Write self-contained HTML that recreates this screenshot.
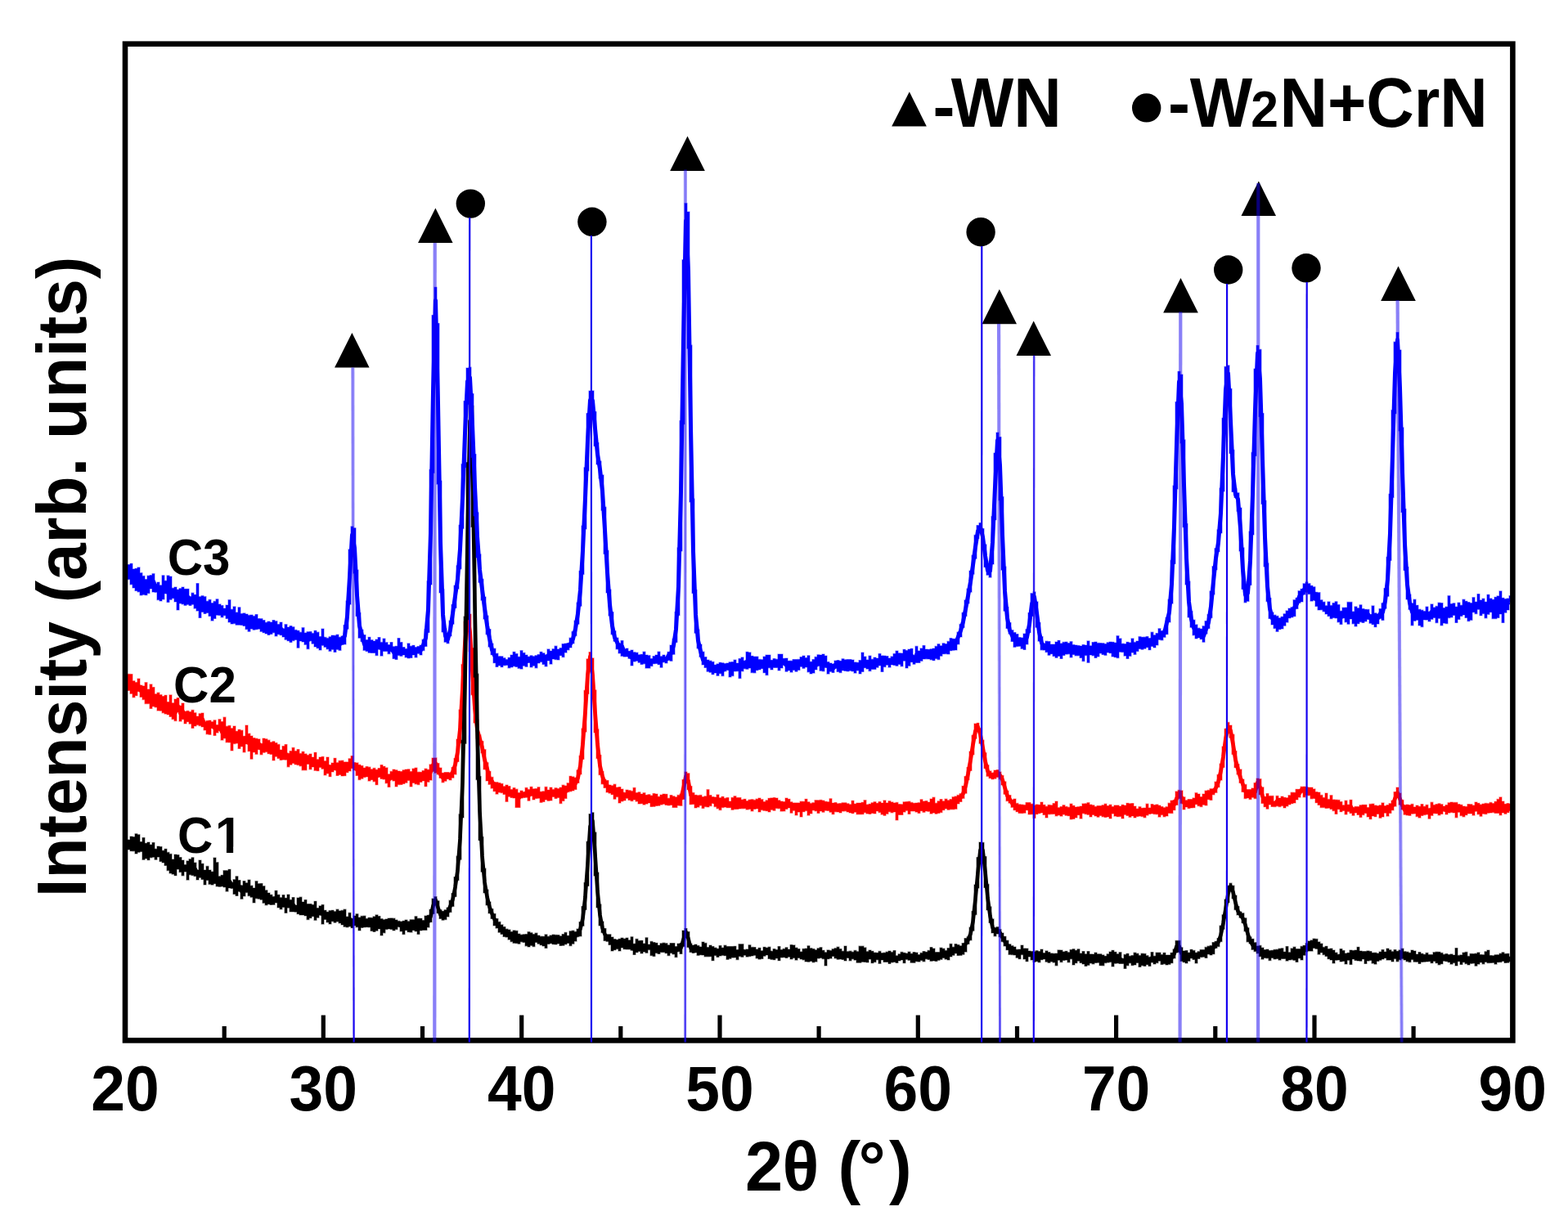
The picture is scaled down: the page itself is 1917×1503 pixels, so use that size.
<!DOCTYPE html><html><head><meta charset="utf-8"><title>XRD patterns</title><style>html,body{margin:0;padding:0;background:#fff;overflow:hidden}svg{display:block}</style></head><body>
<svg width="1917" height="1503" viewBox="0 0 1917 1503">
<rect width="1917" height="1503" fill="#fff"/>
<g>
<path fill="#ff0000" stroke="#ff0000" stroke-width="1.20" stroke-opacity="0.45" d="M156.0 824.4H159.0V824.5H162.0V832.8H165.0V834.6H168.0V830.0H171.0V838.0H174.0V838.9H177.0V834.7H180.0V842.9H183.0V836.9H186.0V840.6H189.0V848.8H192.0V847.2H195.0V849.7H198.0V851.6H201.0V850.3H204.0V858.6H207.0V849.9H210.0V859.8H213.0V855.1H216.0V853.5H219.0V863.1H222.0V860.1H225.0V870.0H228.0V869.4H231.0V870.6H234.0V868.4H237.0V871.8H240.0V876.1H243.0V872.8H246.0V872.1H249.0V882.8H252.0V881.4H255.0V881.0H258.0V882.7H261.0V880.8H264.0V886.5H267.0V879.7H270.0V882.6H273.0V877.2H276.0V888.2H279.0V887.4H282.0V890.7H285.0V888.1H288.0V894.3H291.0V892.3H294.0V893.2H297.0V900.3H300.0V887.1H303.0V897.2H306.0V900.0H309.0V902.6H312.0V903.2H315.0V903.9H318.0V909.3H321.0V903.1H324.0V903.8H327.0V905.2H330.0V907.7H333.0V906.8H336.0V908.6H339.0V910.4H342.0V917.0H345.0V912.6H348.0V910.6H351.0V921.2H354.0V918.5H357.0V914.4H360.0V918.6H363.0V916.6H366.0V921.4H369.0V919.3H372.0V921.9H375.0V923.4H378.0V922.1H381.0V926.1H384.0V920.3H387.0V928.7H390.0V926.1H393.0V925.4H396.0V930.7H399.0V926.1H402.0V935.5H405.0V933.1H408.0V927.3H411.0V932.7H414.0V930.4H417.0V930.2H420.0V931.9H423.0V931.9H426.0V927.8H429.0V924.6H432.0V932.6H435.0V932.9H438.0V935.3H441.0V936.5H444.0V939.1H447.0V937.6H450.0V938.2H453.0V940.8H456.0V939.4H459.0V941.3H462.0V939.6H465.0V935.5H468.0V937.3H471.0V938.9H474.0V946.8H477.0V943.4H480.0V941.1H483.0V941.8H486.0V943.0H489.0V943.5H492.0V941.8H495.0V941.0H498.0V940.8H501.0V943.5H504.0V940.0H507.0V939.1H510.0V944.2H513.0V944.3H516.0V942.5H519.0V940.2H522.0V941.2H525.0V934.9H528.0V927.0H531.0V926.9H534.0V933.6H537.0V939.0H540.0V945.3H543.0V944.6H546.0V944.5H549.0V945.2H552.0V938.6H555.0V927.5H558.0V904.1H561.0V868.1H564.0V812.7H567.0V760.4H570.0V747.8H573.0V751.1H576.0V792.6H579.0V845.8H582.0V880.1H585.0V898.9H588.0V906.6H591.0V916.7H594.0V932.7H597.0V943.3H600.0V950.4H603.0V956.6H606.0V956.7H609.0V957.5H612.0V958.4H615.0V961.7H618.0V960.0H621.0V961.6H624.0V965.6H627.0V963.6H630.0V965.2H633.0V969.4H636.0V967.0H639.0V968.4H642.0V963.4H645.0V965.4H648.0V962.3H651.0V964.8H654.0V964.5H657.0V962.7H660.0V968.2H663.0V967.8H666.0V962.4H669.0V966.1H672.0V963.1H675.0V965.4H678.0V963.7H681.0V964.6H684.0V963.0H687.0V960.2H690.0V960.9H693.0V957.7H696.0V949.3H699.0V949.9H702.0V951.0H705.0V941.8H708.0V924.4H711.0V891.1H714.0V844.4H717.0V805.9H720.0V797.5H723.0V804.9H726.0V843.9H729.0V891.9H732.0V923.6H735.0V943.6H738.0V953.3H741.0V954.5H744.0V960.1H747.0V960.8H750.0V959.2H753.0V962.9H756.0V962.5H759.0V965.0H762.0V969.2H765.0V966.0H768.0V966.7H771.0V967.4H774.0V963.4H777.0V969.5H780.0V968.8H783.0V971.1H786.0V969.7H789.0V972.3H792.0V971.7H795.0V972.9H798.0V970.5H801.0V971.0H804.0V974.2H807.0V972.1H810.0V971.0H813.0V971.3H816.0V976.2H819.0V972.6H822.0V973.8H825.0V974.8H828.0V972.4H831.0V971.2H834.0V953.6H837.0V944.1H840.0V945.8H843.0V961.6H846.0V969.5H849.0V972.3H852.0V972.8H855.0V972.4H858.0V974.6H861.0V973.8H864.0V965.7H867.0V972.5H870.0V974.5H873.0V974.9H876.0V971.9H879.0V975.7H882.0V974.3H885.0V976.2H888.0V975.5H891.0V980.1H894.0V975.4H897.0V973.7H900.0V975.6H903.0V975.5H906.0V977.9H909.0V977.3H912.0V979.6H915.0V978.0H918.0V977.7H921.0V978.4H924.0V977.2H927.0V976.0H930.0V977.7H933.0V980.5H936.0V978.8H939.0V976.3H942.0V975.9H945.0V975.6H948.0V976.1H951.0V978.8H954.0V980.0H957.0V980.6H960.0V976.1H963.0V977.3H966.0V980.8H969.0V981.9H972.0V981.9H975.0V981.9H978.0V980.2H981.0V980.3H984.0V977.3H987.0V980.8H990.0V982.4H993.0V981.7H996.0V978.7H999.0V978.8H1002.0V978.4H1005.0V979.0H1008.0V980.3H1011.0V980.7H1014.0V976.8H1017.0V982.1H1020.0V981.6H1023.0V982.8H1026.0V982.5H1029.0V981.8H1032.0V981.8H1035.0V982.8H1038.0V983.8H1041.0V979.3H1044.0V983.0H1047.0V982.0H1050.0V982.0H1053.0V981.3H1056.0V978.7H1059.0V983.9H1062.0V983.3H1065.0V981.8H1068.0V980.7H1071.0V982.3H1074.0V980.6H1077.0V982.0H1080.0V978.9H1083.0V981.9H1086.0V979.7H1089.0V980.9H1092.0V981.9H1095.0V981.4H1098.0V983.5H1101.0V983.7H1104.0V980.8H1107.0V980.6H1110.0V980.2H1113.0V981.4H1116.0V982.3H1119.0V982.1H1122.0V981.7H1125.0V977.8H1128.0V979.9H1131.0V979.5H1134.0V981.1H1137.0V977.1H1140.0V975.2H1143.0V982.2H1146.0V979.8H1149.0V977.6H1152.0V979.8H1155.0V977.2H1158.0V978.8H1161.0V977.6H1164.0V974.7H1167.0V973.9H1170.0V972.4H1173.0V970.7H1176.0V961.3H1179.0V949.6H1182.0V938.5H1185.0V919.0H1188.0V899.2H1191.0V885.0H1194.0V884.3H1197.0V890.8H1200.0V905.2H1203.0V920.7H1206.0V935.7H1209.0V942.9H1212.0V945.0H1215.0V942.1H1218.0V941.6H1221.0V944.1H1224.0V948.4H1227.0V955.9H1230.0V967.2H1233.0V972.6H1236.0V978.1H1239.0V977.0H1242.0V982.4H1245.0V983.8H1248.0V984.0H1251.0V984.4H1254.0V981.5H1257.0V981.5H1260.0V983.2H1263.0V984.9H1266.0V983.9H1269.0V984.3H1272.0V981.0H1275.0V984.3H1278.0V986.2H1281.0V984.4H1284.0V984.8H1287.0V982.5H1290.0V980.1H1293.0V987.7H1296.0V986.6H1299.0V984.7H1302.0V986.4H1305.0V987.2H1308.0V983.1H1311.0V985.3H1314.0V987.1H1317.0V986.7H1320.0V986.1H1323.0V982.9H1326.0V982.8H1329.0V981.7H1332.0V984.1H1335.0V984.8H1338.0V986.4H1341.0V985.6H1344.0V985.5H1347.0V984.7H1350.0V983.2H1353.0V985.5H1356.0V984.2H1359.0V986.5H1362.0V984.9H1365.0V984.9H1368.0V986.1H1371.0V984.3H1374.0V985.1H1377.0V982.3H1380.0V982.8H1383.0V982.5H1386.0V986.1H1389.0V989.1H1392.0V986.7H1395.0V988.3H1398.0V988.0H1401.0V983.2H1404.0V987.9H1407.0V983.6H1410.0V984.5H1413.0V983.9H1416.0V985.0H1419.0V986.5H1422.0V987.7H1425.0V986.7H1428.0V982.2H1431.0V979.0H1434.0V978.5H1437.0V967.9H1440.0V966.4H1443.0V966.9H1446.0V974.8H1449.0V978.7H1452.0V977.5H1455.0V977.5H1458.0V975.9H1461.0V969.7H1464.0V971.1H1467.0V974.5H1470.0V971.0H1473.0V967.0H1476.0V966.4H1479.0V964.7H1482.0V964.7H1485.0V956.1H1488.0V947.4H1491.0V934.2H1494.0V913.0H1497.0V891.3H1500.0V883.4H1503.0V887.0H1506.0V898.2H1509.0V918.6H1512.0V934.7H1515.0V940.9H1518.0V953.1H1521.0V959.4H1524.0V965.5H1527.0V965.6H1530.0V963.9H1533.0V957.6H1536.0V952.1H1539.0V952.7H1542.0V962.8H1545.0V974.3H1548.0V970.6H1551.0V973.4H1554.0V973.4H1557.0V979.9H1560.0V973.4H1563.0V976.1H1566.0V974.0H1569.0V975.3H1572.0V975.8H1575.0V972.7H1578.0V969.2H1581.0V969.3H1584.0V965.3H1587.0V965.3H1590.0V962.2H1593.0V962.1H1596.0V962.5H1599.0V963.1H1602.0V963.0H1605.0V964.9H1608.0V968.5H1611.0V969.0H1614.0V972.4H1617.0V975.4H1620.0V970.1H1623.0V977.4H1626.0V972.7H1629.0V977.9H1632.0V978.2H1635.0V978.4H1638.0V980.5H1641.0V984.7H1644.0V979.2H1647.0V984.0H1650.0V978.3H1653.0V987.5H1656.0V986.4H1659.0V986.6H1662.0V984.7H1665.0V984.3H1668.0V984.3H1671.0V987.5H1674.0V983.4H1677.0V983.0H1680.0V984.9H1683.0V985.6H1686.0V984.8H1689.0V981.9H1692.0V985.5H1695.0V984.6H1698.0V982.7H1701.0V979.1H1704.0V968.6H1707.0V963.1H1710.0V970.1H1713.0V978.4H1716.0V984.6H1719.0V984.1H1722.0V984.6H1725.0V983.4H1728.0V986.9H1731.0V985.0H1734.0V986.2H1737.0V983.5H1740.0V986.2H1743.0V984.4H1746.0V988.4H1749.0V981.2H1752.0V984.4H1755.0V983.5H1758.0V982.8H1761.0V983.7H1764.0V986.0H1767.0V984.5H1770.0V981.8H1773.0V981.1H1776.0V981.4H1779.0V981.4H1782.0V983.5H1785.0V984.3H1788.0V986.1H1791.0V986.4H1794.0V983.6H1797.0V983.7H1800.0V984.9H1803.0V981.0H1806.0V982.3H1809.0V983.9H1812.0V983.1H1815.0V982.4H1818.0V982.7H1821.0V981.4H1824.0V982.5H1827.0V980.3H1830.0V977.4H1833.0V974.9H1836.0V980.0H1839.0V983.3H1842.0V982.6H1845.0V983.0H1846.5V991.8H1845.0V993.7H1842.0V995.3H1839.0V993.9H1836.0V996.8H1833.0V994.5H1830.0V994.5H1827.0V993.6H1824.0V993.9H1821.0V994.2H1818.0V995.6H1815.0V995.2H1812.0V998.2H1809.0V995.8H1806.0V992.2H1803.0V997.1H1800.0V994.9H1797.0V994.9H1794.0V996.7H1791.0V998.8H1788.0V997.6H1785.0V993.3H1782.0V999.8H1779.0V993.9H1776.0V993.5H1773.0V994.1H1770.0V995.9H1767.0V992.3H1764.0V995.5H1761.0V996.8H1758.0V995.0H1755.0V994.8H1752.0V997.3H1749.0V1001.2H1746.0V996.1H1743.0V996.6H1740.0V997.4H1737.0V1000.1H1734.0V998.6H1731.0V995.1H1728.0V995.2H1725.0V997.3H1722.0V997.0H1719.0V996.2H1716.0V989.9H1713.0V984.1H1710.0V974.3H1707.0V986.1H1704.0V990.8H1701.0V994.4H1698.0V998.1H1695.0V994.2H1692.0V998.9H1689.0V1000.3H1686.0V995.4H1683.0V998.7H1680.0V997.9H1677.0V1001.7H1674.0V999.0H1671.0V994.6H1668.0V996.6H1665.0V999.4H1662.0V996.5H1659.0V994.1H1656.0V997.2H1653.0V994.6H1650.0V992.6H1647.0V996.0H1644.0V991.5H1641.0V992.7H1638.0V989.7H1635.0V995.5H1632.0V991.6H1629.0V989.6H1626.0V988.2H1623.0V988.5H1620.0V987.6H1617.0V987.6H1614.0V984.5H1611.0V981.7H1608.0V976.5H1605.0V976.8H1602.0V972.8H1599.0V972.6H1596.0V974.8H1593.0V969.6H1590.0V975.1H1587.0V977.9H1584.0V981.9H1581.0V982.7H1578.0V983.9H1575.0V986.0H1572.0V987.9H1569.0V985.6H1566.0V986.6H1563.0V985.8H1560.0V986.6H1557.0V986.5H1554.0V984.1H1551.0V989.2H1548.0V986.7H1545.0V982.5H1542.0V971.7H1539.0V961.6H1536.0V976.6H1533.0V975.2H1530.0V977.6H1527.0V976.0H1524.0V976.6H1521.0V968.4H1518.0V957.5H1515.0V947.1H1512.0V938.7H1509.0V922.6H1506.0V902.2H1503.0V896.8H1500.0V917.0H1497.0V938.4H1494.0V954.1H1491.0V962.7H1488.0V969.3H1485.0V971.8H1482.0V978.5H1479.0V977.7H1476.0V985.0H1473.0V984.2H1470.0V986.6H1467.0V985.6H1464.0V983.7H1461.0V987.7H1458.0V988.0H1455.0V988.6H1452.0V986.9H1449.0V990.0H1446.0V982.6H1443.0V976.6H1440.0V984.4H1437.0V990.7H1434.0V994.6H1431.0V994.5H1428.0V997.9H1425.0V998.8H1422.0V996.6H1419.0V999.1H1416.0V995.8H1413.0V995.6H1410.0V995.0H1407.0V995.4H1404.0V997.1H1401.0V999.8H1398.0V998.6H1395.0V998.1H1392.0V998.5H1389.0V1000.0H1386.0V997.9H1383.0V999.3H1380.0V997.4H1377.0V996.3H1374.0V1001.0H1371.0V998.6H1368.0V998.7H1365.0V998.1H1362.0V995.1H1359.0V1001.0H1356.0V998.9H1353.0V999.4H1350.0V998.8H1347.0V997.5H1344.0V999.2H1341.0V998.0H1338.0V996.5H1335.0V998.9H1332.0V996.3H1329.0V995.6H1326.0V994.8H1323.0V1001.1H1320.0V996.7H1317.0V1000.0H1314.0V1001.5H1311.0V1002.0H1308.0V997.7H1305.0V997.2H1302.0V996.1H1299.0V998.1H1296.0V996.9H1293.0V997.8H1290.0V995.4H1287.0V995.6H1284.0V995.8H1281.0V1000.0H1278.0V996.4H1275.0V994.0H1272.0V994.7H1269.0V995.7H1266.0V1000.5H1263.0V995.8H1260.0V996.0H1257.0V990.7H1254.0V994.2H1251.0V994.6H1248.0V994.4H1245.0V992.7H1242.0V990.7H1239.0V987.3H1236.0V982.1H1233.0V979.6H1230.0V971.2H1227.0V959.9H1224.0V952.8H1221.0V950.6H1218.0V952.2H1215.0V953.0H1212.0V951.7H1209.0V949.3H1206.0V939.7H1203.0V924.7H1200.0V909.2H1197.0V894.8H1194.0V903.2H1191.0V923.0H1188.0V942.5H1185.0V953.6H1182.0V970.2H1179.0V976.3H1176.0V980.4H1173.0V983.0H1170.0V989.3H1167.0V989.8H1164.0V989.8H1161.0V990.3H1158.0V988.9H1155.0V990.7H1152.0V993.6H1149.0V994.5H1146.0V995.2H1143.0V994.1H1140.0V995.1H1137.0V992.3H1134.0V992.0H1131.0V993.3H1128.0V991.7H1125.0V994.5H1122.0V993.1H1119.0V992.0H1116.0V992.0H1113.0V995.4H1110.0V991.3H1107.0V993.1H1104.0V996.4H1101.0V996.4H1098.0V1002.9H1095.0V992.9H1092.0V993.8H1089.0V992.8H1086.0V995.3H1083.0V997.3H1080.0V996.1H1077.0V993.6H1074.0V991.9H1071.0V995.0H1068.0V994.4H1065.0V995.5H1062.0V995.1H1059.0V993.8H1056.0V995.7H1053.0V995.8H1050.0V995.8H1047.0V993.2H1044.0V994.7H1041.0V994.0H1038.0V993.0H1035.0V991.8H1032.0V992.1H1029.0V993.9H1026.0V992.9H1023.0V992.8H1020.0V995.7H1017.0V993.2H1014.0V991.5H1011.0V991.2H1008.0V993.2H1005.0V991.9H1002.0V994.4H999.0V991.8H996.0V990.9H993.0V994.9H990.0V997.1H987.0V991.6H984.0V992.7H981.0V999.0H978.0V993.1H975.0V997.0H972.0V991.3H969.0V994.2H966.0V987.9H963.0V989.5H960.0V991.9H957.0V992.1H954.0V988.8H951.0V988.6H948.0V991.2H945.0V990.3H942.0V993.0H939.0V991.7H936.0V991.3H933.0V990.6H930.0V993.0H927.0V988.9H924.0V989.4H921.0V991.9H918.0V989.6H915.0V990.1H912.0V988.7H909.0V988.8H906.0V988.9H903.0V989.4H900.0V989.6H897.0V990.3H894.0V987.7H891.0V987.7H888.0V987.1H885.0V987.6H882.0V990.6H879.0V988.8H876.0V986.6H873.0V982.5H870.0V985.6H867.0V986.9H864.0V986.6H861.0V988.5H858.0V985.1H855.0V987.1H852.0V987.9H849.0V983.6H846.0V983.7H843.0V965.7H840.0V957.6H837.0V977.5H834.0V985.3H831.0V985.1H828.0V987.4H825.0V987.4H822.0V984.4H819.0V984.9H816.0V984.4H813.0V983.3H810.0V984.1H807.0V985.2H804.0V985.5H801.0V986.3H798.0V986.5H795.0V982.0H792.0V983.1H789.0V984.1H786.0V982.7H783.0V983.0H780.0V980.1H777.0V978.1H774.0V979.6H771.0V978.4H768.0V976.3H765.0V978.9H762.0V979.9H759.0V982.0H756.0V974.6H753.0V977.2H750.0V971.7H747.0V970.1H744.0V969.0H741.0V963.5H738.0V958.8H735.0V947.6H732.0V927.6H729.0V895.9H726.0V847.9H723.0V809.9H720.0V848.4H717.0V895.1H714.0V928.4H711.0V946.9H708.0V957.5H705.0V965.4H702.0V967.0H699.0V967.8H696.0V968.6H693.0V976.4H690.0V979.5H687.0V982.6H684.0V975.5H681.0V976.4H678.0V974.5H675.0V979.0H672.0V979.3H669.0V978.1H666.0V980.4H663.0V981.3H660.0V976.2H657.0V976.5H654.0V978.0H651.0V973.4H648.0V979.2H645.0V975.2H642.0V975.4H639.0V976.1H636.0V987.5H633.0V987.5H630.0V975.9H627.0V975.4H624.0V974.2H621.0V980.3H618.0V971.5H615.0V969.6H612.0V969.1H609.0V971.1H606.0V967.7H603.0V964.1H600.0V959.3H597.0V955.0H594.0V940.9H591.0V920.7H588.0V910.6H585.0V902.9H582.0V884.1H579.0V849.8H576.0V796.6H573.0V764.4H570.0V816.7H567.0V872.1H564.0V908.8H561.0V931.5H558.0V947.1H555.0V951.2H552.0V954.0H549.0V952.7H546.0V955.2H543.0V956.8H540.0V951.4H537.0V947.1H534.0V945.3H531.0V943.5H528.0V954.1H525.0V956.3H522.0V961.7H519.0V954.9H516.0V956.4H513.0V959.6H510.0V958.8H507.0V957.4H504.0V961.9H501.0V954.5H498.0V957.2H495.0V958.5H492.0V959.4H489.0V959.6H486.0V962.0H483.0V955.1H480.0V953.8H477.0V962.4H474.0V957.8H471.0V953.1H468.0V952.5H465.0V950.4H462.0V959.7H459.0V955.8H456.0V953.7H453.0V955.1H450.0V950.0H447.0V950.6H444.0V952.2H441.0V953.6H438.0V948.4H435.0V942.0H432.0V939.8H429.0V942.9H426.0V944.7H423.0V948.7H420.0V949.0H417.0V947.5H414.0V948.4H411.0V941.9H408.0V944.0H405.0V949.7H402.0V945.9H399.0V948.0H396.0V940.3H393.0V938.4H390.0V942.7H387.0V942.3H384.0V938.0H381.0V940.8H378.0V934.5H375.0V941.8H372.0V941.8H369.0V936.8H366.0V935.6H363.0V935.0H360.0V933.5H357.0V935.2H354.0V937.8H351.0V929.2H348.0V929.1H345.0V929.4H342.0V927.4H339.0V925.2H336.0V930.0H333.0V922.4H330.0V921.7H327.0V919.6H324.0V920.3H321.0V922.8H318.0V916.7H315.0V922.3H312.0V920.0H309.0V928.2H306.0V918.7H303.0V909.9H300.0V920.0H297.0V913.0H294.0V915.5H291.0V909.1H288.0V909.6H285.0V917.9H282.0V908.0H279.0V907.8H276.0V903.0H273.0V905.1H270.0V893.6H267.0V896.1H264.0V899.5H261.0V890.7H258.0V898.3H255.0V897.8H252.0V893.0H249.0V889.0H246.0V887.6H243.0V886.6H240.0V888.0H237.0V890.5H234.0V885.2H231.0V882.7H228.0V884.9H225.0V879.8H222.0V882.1H219.0V869.0H216.0V881.6H213.0V879.6H210.0V876.4H207.0V874.0H204.0V873.1H201.0V871.8H198.0V869.2H195.0V869.1H192.0V865.0H189.0V863.9H186.0V866.4H183.0V860.6H180.0V860.6H177.0V855.6H174.0V852.5H171.0V845.7H168.0V850.7H165.0V852.8H162.0V848.3H159.0V844.5H156.0Z"/>
<path fill="none" stroke="#ff0000" stroke-width="4.8" stroke-linejoin="round" stroke-linecap="round" d="M157.5 833.7L160.5 837.7L163.5 840.1L166.5 841.8L169.5 838.9L172.5 845.1L175.5 847.9L178.5 847.0L181.5 852.7L184.5 854.6L187.5 851.9L190.5 856.4L193.5 855.6L196.5 859.5L199.5 862.1L202.5 860.5L205.5 866.4L208.5 864.5L211.5 867.7L214.5 871.2L217.5 863.4L220.5 872.1L223.5 869.9L226.5 876.8L229.5 875.7L232.5 877.6L235.5 879.3L238.5 878.7L241.5 881.1L244.5 880.1L247.5 879.4L250.5 886.6L253.5 887.1L256.5 887.2L259.5 886.8L262.5 890.6L265.5 892.0L268.5 888.7L271.5 895.5L274.5 892.8L277.5 897.9L280.5 896.8L283.5 903.0L286.5 902.4L289.5 903.5L292.5 903.0L295.5 903.4L298.5 908.5L301.5 901.8L304.5 909.4L307.5 911.5L310.5 909.7L313.5 909.8L316.5 909.6L319.5 915.8L322.5 912.7L325.5 912.0L328.5 914.7L331.5 915.9L334.5 918.6L337.5 917.7L340.5 918.5L343.5 923.1L346.5 921.9L349.5 922.2L352.5 926.6L355.5 927.4L358.5 926.5L361.5 925.6L364.5 926.7L367.5 928.4L370.5 932.5L373.5 930.9L376.5 928.8L379.5 929.6L382.5 930.9L385.5 930.9L388.5 936.1L391.5 933.4L394.5 934.5L397.5 938.3L400.5 936.6L403.5 942.3L406.5 938.6L409.5 937.0L412.5 941.0L415.5 940.1L418.5 941.8L421.5 939.8L424.5 939.4L427.5 936.0L430.5 933.0L433.5 938.0L436.5 941.4L439.5 945.1L442.5 945.9L445.5 945.2L448.5 944.7L451.5 947.2L454.5 947.2L457.5 948.0L460.5 949.4L463.5 945.7L466.5 944.1L469.5 944.8L472.5 949.3L475.5 953.5L478.5 948.6L481.5 948.4L484.5 951.6L487.5 951.2L490.5 952.0L493.5 952.2L496.5 948.7L499.5 946.4L502.5 952.2L505.5 949.2L508.5 949.2L511.5 950.2L514.5 949.3L517.5 947.8L520.5 951.0L523.5 950.6L526.5 944.1L529.5 935.3L532.5 933.4L535.5 940.3L538.5 947.1L541.5 951.3L544.5 949.7L547.5 948.5L550.5 949.1L553.5 944.1L556.5 935.2L559.5 919.7L562.5 891.6L565.5 842.2L568.5 786.0L571.5 753.1L574.5 772.4L577.5 821.4L580.5 866.1L583.5 892.5L586.5 903.2L589.5 914.1L592.5 929.1L595.5 939.7L598.5 952.0L601.5 955.4L604.5 961.5L607.5 963.8L610.5 963.9L613.5 964.3L616.5 966.7L619.5 968.7L622.5 968.2L625.5 971.2L628.5 969.1L631.5 972.4L634.5 976.0L637.5 971.7L640.5 972.0L643.5 970.0L646.5 972.8L649.5 968.1L652.5 971.2L655.5 970.5L658.5 969.9L661.5 973.6L664.5 973.0L667.5 971.5L670.5 972.3L673.5 970.4L676.5 970.3L679.5 971.0L682.5 970.1L685.5 970.0L688.5 968.7L691.5 968.3L694.5 962.6L697.5 962.0L700.5 960.4L703.5 958.4L706.5 951.5L709.5 936.4L712.5 910.1L715.5 871.0L718.5 825.4L721.5 802.8L724.5 825.3L727.5 871.2L730.5 910.1L733.5 936.5L736.5 949.2L739.5 957.8L742.5 961.0L745.5 964.7L748.5 965.3L751.5 965.7L754.5 969.5L757.5 971.9L760.5 970.4L763.5 973.5L766.5 971.6L769.5 973.2L772.5 973.9L775.5 971.8L778.5 974.5L781.5 975.1L784.5 975.3L787.5 975.9L790.5 977.2L793.5 977.5L796.5 978.2L799.5 978.0L802.5 977.5L805.5 978.9L808.5 978.4L811.5 977.7L814.5 979.4L817.5 980.5L820.5 979.2L823.5 978.4L826.5 979.1L829.5 978.9L832.5 977.0L835.5 964.4L838.5 949.4L841.5 955.2L844.5 972.1L847.5 976.7L850.5 978.7L853.5 979.5L856.5 979.9L859.5 980.4L862.5 979.4L865.5 977.2L868.5 979.3L871.5 978.5L874.5 981.6L877.5 981.0L880.5 981.6L883.5 980.8L886.5 981.2L889.5 983.4L892.5 983.9L895.5 982.7L898.5 981.5L901.5 982.0L904.5 982.6L907.5 982.6L910.5 983.7L913.5 984.6L916.5 983.1L919.5 984.1L922.5 983.0L925.5 983.3L928.5 982.8L931.5 984.4L934.5 985.8L937.5 984.8L940.5 984.4L943.5 982.6L946.5 982.1L949.5 982.0L952.5 983.6L955.5 985.9L958.5 987.3L961.5 984.0L964.5 983.0L967.5 986.1L970.5 986.9L973.5 988.9L976.5 986.2L979.5 988.8L982.5 986.4L985.5 985.3L988.5 989.7L991.5 988.8L994.5 986.4L997.5 985.0L1000.5 987.5L1003.5 985.3L1006.5 986.0L1009.5 986.6L1012.5 986.4L1015.5 987.4L1018.5 988.5L1021.5 986.7L1024.5 987.5L1027.5 988.9L1030.5 987.0L1033.5 987.9L1036.5 987.7L1039.5 989.6L1042.5 987.3L1045.5 988.5L1048.5 987.4L1051.5 988.4L1054.5 987.4L1057.5 986.5L1060.5 989.2L1063.5 989.6L1066.5 988.7L1069.5 986.8L1072.5 986.9L1075.5 987.1L1078.5 988.3L1081.5 989.1L1084.5 989.9L1087.5 987.3L1090.5 988.6L1093.5 987.6L1096.5 989.7L1099.5 989.1L1102.5 988.8L1105.5 987.2L1108.5 987.4L1111.5 988.8L1114.5 986.2L1117.5 987.5L1120.5 988.7L1123.5 988.8L1126.5 985.6L1129.5 986.3L1132.5 987.2L1135.5 986.4L1138.5 986.6L1141.5 985.0L1144.5 988.6L1147.5 987.8L1150.5 985.3L1153.5 984.1L1156.5 983.8L1159.5 985.4L1162.5 983.9L1165.5 982.1L1168.5 981.5L1171.5 978.5L1174.5 975.4L1177.5 970.4L1180.5 961.2L1183.5 946.5L1186.5 929.8L1189.5 910.7L1192.5 894.0L1195.5 888.9L1198.5 898.1L1201.5 913.9L1204.5 930.8L1207.5 943.0L1210.5 947.9L1213.5 949.6L1216.5 946.2L1219.5 944.7L1222.5 948.0L1225.5 953.4L1228.5 963.1L1231.5 973.2L1234.5 977.4L1237.5 982.6L1240.5 984.6L1243.5 988.1L1246.5 988.9L1249.5 988.7L1252.5 988.9L1255.5 986.5L1258.5 989.6L1261.5 991.0L1264.5 992.1L1267.5 990.2L1270.5 989.8L1273.5 988.0L1276.5 988.9L1279.5 992.8L1282.5 989.4L1285.5 989.5L1288.5 989.8L1291.5 990.3L1294.5 991.9L1297.5 991.3L1300.5 990.7L1303.5 992.0L1306.5 991.6L1309.5 991.5L1312.5 993.9L1315.5 992.5L1318.5 991.2L1321.5 992.6L1324.5 988.4L1327.5 989.5L1330.5 990.3L1333.5 991.5L1336.5 990.7L1339.5 992.0L1342.5 992.9L1345.5 992.0L1348.5 991.0L1351.5 991.8L1354.5 990.3L1357.5 992.6L1360.5 990.6L1363.5 992.4L1366.5 991.8L1369.5 992.6L1372.5 991.4L1375.5 991.0L1378.5 991.4L1381.5 991.4L1384.5 992.9L1387.5 991.9L1390.5 994.1L1393.5 992.2L1396.5 992.8L1399.5 993.4L1402.5 990.4L1405.5 992.1L1408.5 989.8L1411.5 990.7L1414.5 990.6L1417.5 990.8L1420.5 991.5L1423.5 992.6L1426.5 991.8L1429.5 989.5L1432.5 988.8L1435.5 984.0L1438.5 976.5L1441.5 971.2L1444.5 975.0L1447.5 982.0L1450.5 982.1L1453.5 983.9L1456.5 982.7L1459.5 981.8L1462.5 978.1L1465.5 978.0L1468.5 980.2L1471.5 977.6L1474.5 975.5L1477.5 972.6L1480.5 969.8L1483.5 968.3L1486.5 963.4L1489.5 956.3L1492.5 943.4L1495.5 925.6L1498.5 903.3L1501.5 889.2L1504.5 893.3L1507.5 910.0L1510.5 929.2L1513.5 940.6L1516.5 951.0L1519.5 959.2L1522.5 967.6L1525.5 970.8L1528.5 970.8L1531.5 970.6L1534.5 968.6L1537.5 956.8L1540.5 962.6L1543.5 973.6L1546.5 980.5L1549.5 979.2L1552.5 979.9L1555.5 981.5L1558.5 983.5L1561.5 979.3L1564.5 980.7L1567.5 979.8L1570.5 981.3L1573.5 981.2L1576.5 977.2L1579.5 977.2L1582.5 975.8L1585.5 972.4L1588.5 970.5L1591.5 965.4L1594.5 966.7L1597.5 967.1L1600.5 968.1L1603.5 969.7L1606.5 970.8L1609.5 975.2L1612.5 975.9L1615.5 979.5L1618.5 980.6L1621.5 981.3L1624.5 982.9L1627.5 982.5L1630.5 983.8L1633.5 985.5L1636.5 984.1L1639.5 987.0L1642.5 988.1L1645.5 988.6L1648.5 988.2L1651.5 986.3L1654.5 992.1L1657.5 989.6L1660.5 992.1L1663.5 992.3L1666.5 990.4L1669.5 990.7L1672.5 992.9L1675.5 993.1L1678.5 990.6L1681.5 993.5L1684.5 990.7L1687.5 993.0L1690.5 991.0L1693.5 990.8L1696.5 992.1L1699.5 988.9L1702.5 985.3L1705.5 976.5L1708.5 969.5L1711.5 976.9L1714.5 985.2L1717.5 990.8L1720.5 991.6L1723.5 990.7L1726.5 990.4L1729.5 991.1L1732.5 991.8L1735.5 992.0L1738.5 990.9L1741.5 991.3L1744.5 991.0L1747.5 993.7L1750.5 989.6L1753.5 989.4L1756.5 990.7L1759.5 990.5L1762.5 990.3L1765.5 989.1L1768.5 991.4L1771.5 989.3L1774.5 987.4L1777.5 987.4L1780.5 988.8L1783.5 989.3L1786.5 990.6L1789.5 990.7L1792.5 990.9L1795.5 989.7L1798.5 990.7L1801.5 990.8L1804.5 986.9L1807.5 990.2L1810.5 989.9L1813.5 988.0L1816.5 989.2L1819.5 988.8L1822.5 988.0L1825.5 986.8L1828.5 988.4L1831.5 987.1L1834.5 986.0L1837.5 986.7L1840.5 988.6L1843.5 987.3"/>
<path fill="#000000" stroke="#000000" stroke-width="1.20" stroke-opacity="0.45" d="M156.0 1027.0H159.0V1023.0H162.0V1023.5H165.0V1019.8H168.0V1020.8H171.0V1029.6H174.0V1024.6H177.0V1031.3H180.0V1030.1H183.0V1033.0H186.0V1030.6H189.0V1038.2H192.0V1035.1H195.0V1035.6H198.0V1040.2H201.0V1038.3H204.0V1042.4H207.0V1044.4H210.0V1050.9H213.0V1045.0H216.0V1045.6H219.0V1048.5H222.0V1052.0H225.0V1057.5H228.0V1052.9H231.0V1050.7H234.0V1048.8H237.0V1055.0H240.0V1064.0H243.0V1052.0H246.0V1056.3H249.0V1064.1H252.0V1059.4H255.0V1064.0H258.0V1066.0H261.0V1049.1H264.0V1054.7H267.0V1071.7H270.0V1070.3H273.0V1064.7H276.0V1064.7H279.0V1063.3H282.0V1079.3H285.0V1075.7H288.0V1071.8H291.0V1076.6H294.0V1082.8H297.0V1077.6H300.0V1079.8H303.0V1076.0H306.0V1083.2H309.0V1086.0H312.0V1077.7H315.0V1080.7H318.0V1080.5H321.0V1083.7H324.0V1088.8H327.0V1092.1H330.0V1094.3H333.0V1096.5H336.0V1089.3H339.0V1094.3H342.0V1097.7H345.0V1094.5H348.0V1098.3H351.0V1094.0H354.0V1100.4H357.0V1097.5H360.0V1107.0H363.0V1098.0H366.0V1097.2H369.0V1103.1H372.0V1100.5H375.0V1105.5H378.0V1105.6H381.0V1106.4H384.0V1102.3H387.0V1110.6H390.0V1107.9H393.0V1106.5H396.0V1113.3H399.0V1115.3H402.0V1113.7H405.0V1113.3H408.0V1114.7H411.0V1112.2H414.0V1113.9H417.0V1113.4H420.0V1112.2H423.0V1121.0H426.0V1116.4H429.0V1123.3H432.0V1120.1H435.0V1117.8H438.0V1122.0H441.0V1120.4H444.0V1120.2H447.0V1123.4H450.0V1122.3H453.0V1122.4H456.0V1120.9H459.0V1118.9H462.0V1120.5H465.0V1123.7H468.0V1124.7H471.0V1124.1H474.0V1123.1H477.0V1122.9H480.0V1123.2H483.0V1125.1H486.0V1126.4H489.0V1127.0H492.0V1126.3H495.0V1125.0H498.0V1126.8H501.0V1124.8H504.0V1124.8H507.0V1120.8H510.0V1123.2H513.0V1123.3H516.0V1125.5H519.0V1120.0H522.0V1119.3H525.0V1112.3H528.0V1099.0H531.0V1096.7H534.0V1101.8H537.0V1112.7H540.0V1114.3H543.0V1112.8H546.0V1110.1H549.0V1101.2H552.0V1092.5H555.0V1072.6H558.0V1047.2H561.0V995.9H564.0V905.3H567.0V754.0H570.0V565.5H573.0V490.7H576.0V496.4H579.0V640.4H582.0V824.2H585.0V949.6H588.0V1023.7H591.0V1062.2H594.0V1088.0H597.0V1103.0H600.0V1111.7H603.0V1117.6H606.0V1123.6H609.0V1127.4H612.0V1130.9H615.0V1133.5H618.0V1136.2H621.0V1137.0H624.0V1139.5H627.0V1137.9H630.0V1138.4H633.0V1142.0H636.0V1143.2H639.0V1142.8H642.0V1142.5H645.0V1139.7H648.0V1140.8H651.0V1142.6H654.0V1141.2H657.0V1144.1H660.0V1145.2H663.0V1145.3H666.0V1142.9H669.0V1145.2H672.0V1143.9H675.0V1143.1H678.0V1143.4H681.0V1143.5H684.0V1144.8H687.0V1142.5H690.0V1140.4H693.0V1144.3H696.0V1138.8H699.0V1138.2H702.0V1139.4H705.0V1136.0H708.0V1127.5H711.0V1108.5H714.0V1079.5H717.0V1029.2H720.0V995.5H723.0V993.8H726.0V1017.9H729.0V1067.1H732.0V1106.0H735.0V1127.1H738.0V1135.5H741.0V1142.8H744.0V1142.8H747.0V1146.1H750.0V1148.5H753.0V1149.3H756.0V1148.3H759.0V1147.1H762.0V1148.1H765.0V1147.1H768.0V1149.8H771.0V1145.8H774.0V1154.2H777.0V1148.4H780.0V1150.4H783.0V1150.3H786.0V1153.9H789.0V1146.8H792.0V1155.1H795.0V1151.4H798.0V1152.5H801.0V1153.3H804.0V1156.1H807.0V1153.8H810.0V1153.2H813.0V1153.7H816.0V1155.8H819.0V1153.5H822.0V1153.6H825.0V1157.5H828.0V1154.0H831.0V1153.6H834.0V1138.0H837.0V1135.5H840.0V1139.6H843.0V1154.2H846.0V1155.9H849.0V1155.1H852.0V1156.6H855.0V1157.9H858.0V1152.0H861.0V1153.4H864.0V1158.6H867.0V1156.1H870.0V1157.6H873.0V1159.0H876.0V1160.2H879.0V1156.5H882.0V1159.1H885.0V1156.2H888.0V1157.5H891.0V1157.5H894.0V1157.6H897.0V1157.3H900.0V1161.5H903.0V1154.7H906.0V1154.7H909.0V1161.4H912.0V1160.9H915.0V1155.8H918.0V1158.4H921.0V1158.5H924.0V1160.9H927.0V1159.3H930.0V1162.8H933.0V1158.3H936.0V1159.0H939.0V1158.2H942.0V1163.2H945.0V1160.6H948.0V1161.5H951.0V1157.6H954.0V1161.5H957.0V1160.4H960.0V1158.8H963.0V1161.0H966.0V1155.5H969.0V1155.9H972.0V1159.1H975.0V1160.6H978.0V1163.9H981.0V1160.4H984.0V1160.0H987.0V1156.8H990.0V1159.7H993.0V1160.6H996.0V1161.8H999.0V1159.8H1002.0V1158.7H1005.0V1162.3H1008.0V1164.7H1011.0V1161.9H1014.0V1162.5H1017.0V1160.7H1020.0V1159.7H1023.0V1158.2H1026.0V1160.5H1029.0V1163.2H1032.0V1157.1H1035.0V1163.7H1038.0V1163.2H1041.0V1164.2H1044.0V1162.4H1047.0V1163.7H1050.0V1157.2H1053.0V1157.2H1056.0V1158.9H1059.0V1163.7H1062.0V1162.1H1065.0V1163.3H1068.0V1165.1H1071.0V1165.3H1074.0V1163.4H1077.0V1165.5H1080.0V1165.2H1083.0V1164.2H1086.0V1163.1H1089.0V1164.4H1092.0V1162.6H1095.0V1168.8H1098.0V1166.8H1101.0V1164.4H1104.0V1165.3H1107.0V1165.9H1110.0V1164.1H1113.0V1166.3H1116.0V1164.6H1119.0V1165.0H1122.0V1167.6H1125.0V1165.4H1128.0V1163.6H1131.0V1164.3H1134.0V1162.4H1137.0V1158.5H1140.0V1160.1H1143.0V1164.6H1146.0V1164.6H1149.0V1159.2H1152.0V1160.2H1155.0V1162.4H1158.0V1159.5H1161.0V1154.4H1164.0V1158.2H1167.0V1154.6H1170.0V1155.6H1173.0V1156.8H1176.0V1153.6H1179.0V1147.5H1182.0V1145.8H1185.0V1134.2H1188.0V1114.6H1191.0V1082.1H1194.0V1048.5H1197.0V1030.0H1200.0V1030.4H1203.0V1047.6H1206.0V1081.4H1209.0V1108.9H1212.0V1123.9H1215.0V1134.4H1218.0V1133.7H1221.0V1136.7H1224.0V1141.0H1227.0V1145.3H1230.0V1150.2H1233.0V1154.8H1236.0V1156.7H1239.0V1158.0H1242.0V1161.2H1245.0V1161.1H1248.0V1156.1H1251.0V1159.9H1254.0V1160.1H1257.0V1163.1H1260.0V1163.5H1263.0V1163.8H1266.0V1162.7H1269.0V1163.5H1272.0V1161.0H1275.0V1165.5H1278.0V1162.9H1281.0V1164.6H1284.0V1165.9H1287.0V1166.2H1290.0V1166.1H1293.0V1161.9H1296.0V1162.1H1299.0V1163.9H1302.0V1163.3H1305.0V1164.7H1308.0V1161.5H1311.0V1160.7H1314.0V1162.3H1317.0V1160.8H1320.0V1165.9H1323.0V1163.6H1326.0V1166.8H1329.0V1163.6H1332.0V1166.9H1335.0V1167.1H1338.0V1165.0H1341.0V1166.8H1344.0V1166.8H1347.0V1167.9H1350.0V1169.3H1353.0V1166.8H1356.0V1164.1H1359.0V1162.3H1362.0V1164.3H1365.0V1166.7H1368.0V1164.7H1371.0V1172.2H1374.0V1167.4H1377.0V1166.3H1380.0V1169.2H1383.0V1168.5H1386.0V1165.2H1389.0V1166.2H1392.0V1168.4H1395.0V1166.2H1398.0V1166.4H1401.0V1168.7H1404.0V1170.4H1407.0V1164.6H1410.0V1169.2H1413.0V1165.0H1416.0V1165.1H1419.0V1167.4H1422.0V1165.3H1425.0V1168.1H1428.0V1168.0H1431.0V1165.3H1434.0V1160.9H1437.0V1150.4H1440.0V1150.4H1443.0V1158.8H1446.0V1162.9H1449.0V1162.5H1452.0V1165.1H1455.0V1161.3H1458.0V1162.4H1461.0V1165.1H1464.0V1163.7H1467.0V1161.6H1470.0V1161.6H1473.0V1158.4H1476.0V1157.2H1479.0V1156.4H1482.0V1152.6H1485.0V1151.3H1488.0V1147.6H1491.0V1132.2H1494.0V1118.8H1497.0V1099.9H1500.0V1083.2H1503.0V1080.2H1506.0V1083.2H1509.0V1095.0H1512.0V1108.6H1515.0V1115.0H1518.0V1116.8H1521.0V1122.8H1524.0V1134.8H1527.0V1145.8H1530.0V1148.3H1533.0V1152.7H1536.0V1156.9H1539.0V1156.4H1542.0V1159.0H1545.0V1161.5H1548.0V1161.1H1551.0V1162.6H1554.0V1162.3H1557.0V1161.4H1560.0V1161.2H1563.0V1160.2H1566.0V1159.8H1569.0V1164.0H1572.0V1157.6H1575.0V1164.7H1578.0V1159.9H1581.0V1158.2H1584.0V1160.6H1587.0V1160.6H1590.0V1157.4H1593.0V1156.3H1596.0V1153.7H1599.0V1150.9H1602.0V1149.9H1605.0V1148.1H1608.0V1148.4H1611.0V1151.9H1614.0V1154.1H1617.0V1158.4H1620.0V1157.3H1623.0V1160.6H1626.0V1160.1H1629.0V1162.1H1632.0V1165.0H1635.0V1167.2H1638.0V1160.6H1641.0V1162.6H1644.0V1165.9H1647.0V1165.3H1650.0V1162.0H1653.0V1162.5H1656.0V1162.1H1659.0V1158.3H1662.0V1163.0H1665.0V1163.6H1668.0V1163.5H1671.0V1162.9H1674.0V1163.5H1677.0V1165.3H1680.0V1165.2H1683.0V1165.9H1686.0V1164.0H1689.0V1161.5H1692.0V1164.1H1695.0V1160.0H1698.0V1161.8H1701.0V1163.7H1704.0V1161.6H1707.0V1163.3H1710.0V1161.9H1713.0V1160.2H1716.0V1163.7H1719.0V1164.2H1722.0V1165.2H1725.0V1162.1H1728.0V1163.0H1731.0V1167.0H1734.0V1164.5H1737.0V1166.3H1740.0V1167.3H1743.0V1165.4H1746.0V1167.5H1749.0V1167.5H1752.0V1164.7H1755.0V1164.2H1758.0V1164.3H1761.0V1165.4H1764.0V1167.2H1767.0V1166.6H1770.0V1167.5H1773.0V1166.9H1776.0V1168.0H1779.0V1159.6H1782.0V1168.4H1785.0V1167.9H1788.0V1165.0H1791.0V1164.4H1794.0V1169.4H1797.0V1166.4H1800.0V1166.6H1803.0V1166.2H1806.0V1164.9H1809.0V1167.5H1812.0V1167.7H1815.0V1163.8H1818.0V1162.1H1821.0V1168.6H1824.0V1168.8H1827.0V1167.8H1830.0V1167.7H1833.0V1166.2H1836.0V1164.8H1839.0V1166.4H1842.0V1166.3H1845.0V1169.9H1846.5V1176.0H1845.0V1177.2H1842.0V1177.5H1839.0V1175.4H1836.0V1176.6H1833.0V1176.7H1830.0V1179.1H1827.0V1177.3H1824.0V1177.5H1821.0V1177.6H1818.0V1176.4H1815.0V1178.8H1812.0V1177.0H1809.0V1179.1H1806.0V1181.2H1803.0V1178.1H1800.0V1178.3H1797.0V1180.0H1794.0V1178.6H1791.0V1176.8H1788.0V1179.4H1785.0V1175.7H1782.0V1180.9H1779.0V1177.6H1776.0V1179.1H1773.0V1176.7H1770.0V1175.7H1767.0V1175.2H1764.0V1178.7H1761.0V1179.8H1758.0V1177.7H1755.0V1175.6H1752.0V1177.7H1749.0V1175.7H1746.0V1176.0H1743.0V1176.2H1740.0V1176.5H1737.0V1178.5H1734.0V1176.3H1731.0V1176.2H1728.0V1173.6H1725.0V1176.6H1722.0V1175.8H1719.0V1173.9H1716.0V1172.6H1713.0V1173.8H1710.0V1175.8H1707.0V1172.6H1704.0V1175.9H1701.0V1174.1H1698.0V1174.1H1695.0V1171.7H1692.0V1173.0H1689.0V1174.2H1686.0V1175.4H1683.0V1179.1H1680.0V1178.1H1677.0V1174.5H1674.0V1175.1H1671.0V1178.5H1668.0V1173.0H1665.0V1175.2H1662.0V1174.9H1659.0V1174.5H1656.0V1173.0H1653.0V1179.5H1650.0V1174.3H1647.0V1179.0H1644.0V1175.4H1641.0V1175.9H1638.0V1173.9H1635.0V1174.2H1632.0V1177.9H1629.0V1174.0H1626.0V1172.7H1623.0V1169.4H1620.0V1167.6H1617.0V1164.9H1614.0V1167.1H1611.0V1160.3H1608.0V1159.5H1605.0V1163.1H1602.0V1163.1H1599.0V1163.8H1596.0V1168.2H1593.0V1173.9H1590.0V1172.0H1587.0V1176.4H1584.0V1174.3H1581.0V1173.6H1578.0V1173.9H1575.0V1175.1H1572.0V1172.5H1569.0V1172.4H1566.0V1174.1H1563.0V1172.5H1560.0V1172.9H1557.0V1171.4H1554.0V1174.6H1551.0V1171.8H1548.0V1171.5H1545.0V1173.1H1542.0V1169.7H1539.0V1165.9H1536.0V1163.6H1533.0V1161.3H1530.0V1154.0H1527.0V1151.8H1524.0V1138.8H1521.0V1128.7H1518.0V1122.2H1515.0V1119.0H1512.0V1112.6H1509.0V1099.0H1506.0V1087.6H1503.0V1103.9H1500.0V1122.8H1497.0V1136.2H1494.0V1151.6H1491.0V1157.6H1488.0V1159.5H1485.0V1166.7H1482.0V1167.9H1479.0V1167.0H1476.0V1171.4H1473.0V1170.2H1470.0V1170.6H1467.0V1172.5H1464.0V1177.9H1461.0V1173.5H1458.0V1172.0H1455.0V1175.3H1452.0V1177.9H1449.0V1176.7H1446.0V1175.4H1443.0V1164.4H1440.0V1164.9H1437.0V1172.0H1434.0V1177.7H1431.0V1179.3H1428.0V1180.0H1425.0V1178.8H1422.0V1179.4H1419.0V1175.2H1416.0V1177.6H1413.0V1178.9H1410.0V1177.1H1407.0V1181.5H1404.0V1179.7H1401.0V1181.4H1398.0V1180.8H1395.0V1182.5H1392.0V1177.4H1389.0V1180.0H1386.0V1180.6H1383.0V1177.8H1380.0V1180.8H1377.0V1184.5H1374.0V1178.5H1371.0V1178.4H1368.0V1177.9H1365.0V1178.2H1362.0V1181.9H1359.0V1176.6H1356.0V1177.1H1353.0V1177.6H1350.0V1180.8H1347.0V1180.7H1344.0V1177.2H1341.0V1177.4H1338.0V1178.8H1335.0V1178.0H1332.0V1180.3H1329.0V1181.5H1326.0V1179.0H1323.0V1177.5H1320.0V1175.2H1317.0V1177.7H1314.0V1180.0H1311.0V1172.8H1308.0V1176.8H1305.0V1174.1H1302.0V1174.4H1299.0V1176.6H1296.0V1174.2H1293.0V1180.8H1290.0V1177.1H1287.0V1176.1H1284.0V1177.3H1281.0V1176.2H1278.0V1173.0H1275.0V1173.7H1272.0V1176.8H1269.0V1175.7H1266.0V1176.4H1263.0V1173.9H1260.0V1170.1H1257.0V1175.7H1254.0V1173.0H1251.0V1167.6H1248.0V1172.7H1245.0V1171.2H1242.0V1168.0H1239.0V1167.6H1236.0V1167.3H1233.0V1161.7H1230.0V1157.0H1227.0V1151.6H1224.0V1145.7H1221.0V1142.1H1218.0V1144.8H1215.0V1141.0H1212.0V1128.5H1209.0V1112.9H1206.0V1085.4H1203.0V1051.6H1200.0V1052.5H1197.0V1086.1H1194.0V1118.6H1191.0V1138.2H1188.0V1149.8H1185.0V1154.5H1182.0V1164.1H1179.0V1167.2H1176.0V1168.3H1173.0V1168.5H1170.0V1166.0H1167.0V1168.2H1164.0V1169.9H1161.0V1174.0H1158.0V1173.1H1155.0V1171.4H1152.0V1173.3H1149.0V1174.3H1146.0V1175.5H1143.0V1175.0H1140.0V1175.3H1137.0V1173.5H1134.0V1172.8H1131.0V1175.8H1128.0V1174.6H1125.0V1176.1H1122.0V1175.7H1119.0V1177.3H1116.0V1177.2H1113.0V1174.3H1110.0V1173.3H1107.0V1177.7H1104.0V1174.0H1101.0V1174.9H1098.0V1177.5H1095.0V1176.4H1092.0V1177.0H1089.0V1178.5H1086.0V1176.4H1083.0V1176.5H1080.0V1173.9H1077.0V1178.3H1074.0V1173.8H1071.0V1176.6H1068.0V1177.7H1065.0V1173.1H1062.0V1177.0H1059.0V1176.5H1056.0V1176.3H1053.0V1177.2H1050.0V1177.2H1047.0V1174.1H1044.0V1172.8H1041.0V1174.8H1038.0V1171.5H1035.0V1174.9H1032.0V1173.4H1029.0V1173.0H1026.0V1173.2H1023.0V1171.9H1020.0V1169.5H1017.0V1172.1H1014.0V1172.7H1011.0V1180.9H1008.0V1172.6H1005.0V1171.5H1002.0V1172.1H999.0V1176.1H996.0V1176.8H993.0V1175.4H990.0V1176.2H987.0V1176.0H984.0V1173.8H981.0V1173.0H978.0V1171.4H975.0V1174.1H972.0V1171.6H969.0V1173.0H966.0V1170.2H963.0V1171.5H960.0V1170.7H957.0V1170.9H954.0V1174.7H951.0V1172.0H948.0V1173.7H945.0V1173.3H942.0V1172.4H939.0V1168.0H936.0V1169.2H933.0V1172.5H930.0V1173.1H927.0V1171.9H924.0V1168.3H921.0V1168.9H918.0V1169.6H915.0V1170.1H912.0V1168.2H909.0V1170.3H906.0V1169.6H903.0V1173.6H900.0V1171.0H897.0V1171.1H894.0V1172.3H891.0V1173.3H888.0V1168.7H885.0V1168.3H882.0V1168.9H879.0V1170.5H876.0V1168.6H873.0V1174.7H870.0V1169.7H867.0V1169.8H864.0V1169.8H861.0V1168.0H858.0V1167.7H855.0V1168.3H852.0V1165.0H849.0V1165.5H846.0V1164.4H843.0V1158.5H840.0V1145.8H837.0V1157.6H834.0V1166.5H831.0V1163.8H828.0V1170.6H825.0V1166.9H822.0V1165.6H819.0V1168.6H816.0V1165.7H813.0V1164.6H810.0V1164.6H807.0V1166.5H804.0V1165.6H801.0V1169.4H798.0V1168.6H795.0V1161.6H792.0V1165.3H789.0V1164.1H786.0V1165.9H783.0V1163.6H780.0V1164.7H777.0V1167.5H774.0V1162.2H771.0V1160.9H768.0V1160.9H765.0V1160.7H762.0V1159.0H759.0V1163.0H756.0V1160.6H753.0V1161.7H750.0V1162.9H747.0V1155.5H744.0V1151.3H741.0V1150.5H738.0V1140.6H735.0V1131.9H732.0V1110.0H729.0V1071.1H726.0V1021.9H723.0V1033.2H720.0V1083.5H717.0V1112.5H714.0V1132.3H711.0V1144.9H708.0V1145.6H705.0V1151.1H702.0V1154.2H699.0V1156.6H696.0V1153.5H693.0V1154.8H690.0V1156.2H687.0V1156.5H684.0V1154.1H681.0V1155.0H678.0V1154.7H675.0V1153.7H672.0V1154.4H669.0V1159.4H666.0V1156.9H663.0V1155.7H660.0V1154.2H657.0V1152.4H654.0V1157.6H651.0V1156.3H648.0V1158.0H645.0V1156.8H642.0V1152.5H639.0V1151.8H636.0V1154.2H633.0V1153.6H630.0V1153.3H627.0V1151.6H624.0V1149.1H621.0V1146.1H618.0V1145.5H615.0V1142.5H612.0V1140.2H609.0V1135.1H606.0V1131.9H603.0V1123.4H600.0V1117.0H597.0V1107.0H594.0V1092.0H591.0V1066.2H588.0V1027.7H585.0V953.6H582.0V828.2H579.0V644.4H576.0V569.5H573.0V758.0H570.0V909.3H567.0V999.9H564.0V1051.2H561.0V1076.6H558.0V1096.5H555.0V1108.5H552.0V1115.6H549.0V1121.1H546.0V1124.6H543.0V1125.2H540.0V1123.4H537.0V1116.7H534.0V1105.8H531.0V1117.5H528.0V1127.7H525.0V1134.1H522.0V1137.4H519.0V1137.4H516.0V1138.0H513.0V1142.4H510.0V1139.0H507.0V1137.7H504.0V1140.1H501.0V1139.7H498.0V1137.7H495.0V1142.6H492.0V1138.9H489.0V1133.6H486.0V1136.6H483.0V1137.9H480.0V1136.5H477.0V1136.0H474.0V1136.6H471.0V1140.8H468.0V1143.9H465.0V1135.9H462.0V1138.2H459.0V1139.5H456.0V1138.4H453.0V1134.0H450.0V1133.7H447.0V1133.9H444.0V1134.4H441.0V1138.0H438.0V1133.8H435.0V1132.0H432.0V1134.7H429.0V1133.1H426.0V1134.0H423.0V1133.3H420.0V1131.0H417.0V1128.9H414.0V1127.1H411.0V1128.2H408.0V1126.8H405.0V1130.0H402.0V1127.9H399.0V1124.4H396.0V1130.1H393.0V1119.3H390.0V1122.2H387.0V1125.3H384.0V1120.7H381.0V1122.7H378.0V1124.6H375.0V1120.0H372.0V1119.0H369.0V1119.0H366.0V1117.7H363.0V1115.2H360.0V1115.0H357.0V1115.0H354.0V1110.2H351.0V1116.5H348.0V1109.5H345.0V1112.0H342.0V1109.9H339.0V1104.1H336.0V1106.3H333.0V1106.4H330.0V1105.7H327.0V1106.8H324.0V1104.3H321.0V1100.2H318.0V1099.2H315.0V1098.8H312.0V1104.0H309.0V1097.2H306.0V1095.6H303.0V1091.6H300.0V1096.0H297.0V1099.3H294.0V1090.3H291.0V1095.4H288.0V1093.4H285.0V1086.5H282.0V1086.0H279.0V1090.1H276.0V1084.9H273.0V1084.0H270.0V1084.3H267.0V1083.9H264.0V1080.7H261.0V1082.1H258.0V1081.3H255.0V1076.6H252.0V1081.9H249.0V1075.4H246.0V1073.3H243.0V1075.9H240.0V1071.6H237.0V1070.6H234.0V1069.8H231.0V1076.1H228.0V1066.1H225.0V1070.8H222.0V1066.6H219.0V1063.1H216.0V1070.7H213.0V1069.1H210.0V1068.0H207.0V1064.6H204.0V1058.5H201.0V1055.0H198.0V1053.5H195.0V1048.1H192.0V1051.2H189.0V1048.2H186.0V1048.8H183.0V1051.7H180.0V1049.9H177.0V1051.3H174.0V1041.5H171.0V1042.2H168.0V1043.9H165.0V1040.8H162.0V1040.7H159.0V1038.9H156.0Z"/>
<path fill="none" stroke="#000000" stroke-width="4.6" stroke-linejoin="round" stroke-linecap="round" d="M157.5 1032.6L160.5 1030.9L163.5 1032.6L166.5 1032.0L169.5 1032.6L172.5 1035.2L175.5 1037.2L178.5 1039.8L181.5 1041.9L184.5 1039.8L187.5 1039.7L190.5 1044.3L193.5 1041.1L196.5 1044.0L199.5 1047.3L202.5 1046.5L205.5 1052.6L208.5 1053.9L211.5 1057.4L214.5 1057.2L217.5 1055.6L220.5 1058.4L223.5 1061.8L226.5 1061.6L229.5 1063.8L232.5 1060.7L235.5 1061.2L238.5 1062.5L241.5 1068.8L244.5 1065.3L247.5 1066.1L250.5 1071.8L253.5 1068.1L256.5 1069.0L259.5 1072.8L262.5 1069.3L265.5 1074.6L268.5 1079.1L271.5 1077.8L274.5 1077.7L277.5 1078.4L280.5 1077.4L283.5 1082.3L286.5 1083.1L289.5 1086.3L292.5 1083.7L295.5 1090.3L298.5 1086.5L301.5 1085.5L304.5 1089.0L307.5 1091.7L310.5 1093.2L313.5 1089.0L316.5 1091.4L319.5 1091.7L322.5 1095.6L325.5 1096.2L328.5 1098.9L331.5 1100.3L334.5 1100.7L337.5 1097.8L340.5 1102.0L343.5 1104.7L346.5 1101.8L349.5 1106.7L352.5 1103.4L355.5 1107.3L358.5 1106.4L361.5 1111.7L364.5 1109.2L367.5 1109.9L370.5 1113.4L373.5 1111.8L376.5 1115.0L379.5 1114.7L382.5 1115.0L385.5 1115.9L388.5 1116.5L391.5 1114.0L394.5 1118.4L397.5 1120.0L400.5 1121.0L403.5 1123.9L406.5 1120.1L409.5 1121.5L412.5 1120.7L415.5 1121.9L418.5 1121.9L421.5 1124.1L424.5 1126.2L427.5 1123.5L430.5 1129.3L433.5 1125.1L436.5 1125.7L439.5 1128.1L442.5 1127.1L445.5 1127.4L448.5 1128.3L451.5 1129.1L454.5 1130.0L457.5 1129.1L460.5 1128.8L463.5 1130.4L466.5 1131.9L469.5 1132.1L472.5 1129.5L475.5 1130.2L478.5 1130.6L481.5 1130.3L484.5 1130.8L487.5 1129.8L490.5 1132.5L493.5 1133.5L496.5 1130.1L499.5 1133.7L502.5 1132.2L505.5 1132.0L508.5 1132.2L511.5 1132.1L514.5 1130.9L517.5 1130.9L520.5 1128.5L523.5 1127.2L526.5 1121.1L529.5 1107.7L532.5 1100.4L535.5 1110.0L538.5 1118.7L541.5 1120.3L544.5 1118.7L547.5 1115.0L550.5 1108.2L553.5 1100.1L556.5 1085.1L559.5 1064.4L562.5 1025.9L565.5 956.5L568.5 836.9L571.5 661.0L574.5 514.7L577.5 558.7L580.5 737.2L583.5 894.1L586.5 991.6L589.5 1046.7L592.5 1078.8L595.5 1096.6L598.5 1109.1L601.5 1117.3L604.5 1124.2L607.5 1129.8L610.5 1133.2L613.5 1136.7L616.5 1138.4L619.5 1142.1L622.5 1142.8L625.5 1145.8L628.5 1143.6L631.5 1145.0L634.5 1147.8L637.5 1147.8L640.5 1147.1L643.5 1148.5L646.5 1147.2L649.5 1148.6L652.5 1150.4L655.5 1147.5L658.5 1149.2L661.5 1149.8L664.5 1150.1L667.5 1148.8L670.5 1149.8L673.5 1149.6L676.5 1148.6L679.5 1149.4L682.5 1148.4L685.5 1149.9L688.5 1148.1L691.5 1147.6L694.5 1149.2L697.5 1148.1L700.5 1146.0L703.5 1145.0L706.5 1141.1L709.5 1136.1L712.5 1123.2L715.5 1097.1L718.5 1056.4L721.5 1010.6L724.5 1003.8L727.5 1044.1L730.5 1089.8L733.5 1119.1L736.5 1134.7L739.5 1142.7L742.5 1147.2L745.5 1149.8L748.5 1152.6L751.5 1153.4L754.5 1153.3L757.5 1153.5L760.5 1154.1L763.5 1155.3L766.5 1154.5L769.5 1155.8L772.5 1156.0L775.5 1161.4L778.5 1155.5L781.5 1157.3L784.5 1159.0L787.5 1158.8L790.5 1157.6L793.5 1157.9L796.5 1158.4L799.5 1160.0L802.5 1160.2L805.5 1161.6L808.5 1159.0L811.5 1160.3L814.5 1159.5L817.5 1162.3L820.5 1159.7L823.5 1161.1L826.5 1162.8L829.5 1159.4L832.5 1159.3L835.5 1149.0L838.5 1139.5L841.5 1147.8L844.5 1159.7L847.5 1161.5L850.5 1159.9L853.5 1162.3L856.5 1163.3L859.5 1161.6L862.5 1163.2L865.5 1164.7L868.5 1163.5L871.5 1164.7L874.5 1164.0L877.5 1165.2L880.5 1162.7L883.5 1163.4L886.5 1162.1L889.5 1165.5L892.5 1165.0L895.5 1165.1L898.5 1163.4L901.5 1167.1L904.5 1162.7L907.5 1162.6L910.5 1165.0L913.5 1165.7L916.5 1162.8L919.5 1164.1L922.5 1163.0L925.5 1165.6L928.5 1165.0L931.5 1167.0L934.5 1164.2L937.5 1163.8L940.5 1164.3L943.5 1167.8L946.5 1165.7L949.5 1166.3L952.5 1165.6L955.5 1165.3L958.5 1165.5L961.5 1163.6L964.5 1165.3L967.5 1165.0L970.5 1165.3L973.5 1165.6L976.5 1165.9L979.5 1168.2L982.5 1165.7L985.5 1166.6L988.5 1166.4L991.5 1167.7L994.5 1167.6L997.5 1168.0L1000.5 1166.9L1003.5 1165.9L1006.5 1166.5L1009.5 1171.2L1012.5 1166.7L1015.5 1167.4L1018.5 1166.1L1021.5 1165.6L1024.5 1166.5L1027.5 1166.8L1030.5 1168.7L1033.5 1167.6L1036.5 1168.1L1039.5 1169.7L1042.5 1168.4L1045.5 1169.5L1048.5 1170.7L1051.5 1168.3L1054.5 1168.4L1057.5 1169.8L1060.5 1171.0L1063.5 1169.2L1066.5 1169.9L1069.5 1170.6L1072.5 1169.7L1075.5 1171.7L1078.5 1170.1L1081.5 1172.0L1084.5 1170.6L1087.5 1171.3L1090.5 1172.2L1093.5 1171.0L1096.5 1173.5L1099.5 1171.3L1102.5 1169.5L1105.5 1170.8L1108.5 1169.5L1111.5 1169.9L1114.5 1171.4L1117.5 1170.8L1120.5 1170.6L1123.5 1171.7L1126.5 1169.8L1129.5 1169.2L1132.5 1168.7L1135.5 1169.4L1138.5 1168.3L1141.5 1167.1L1144.5 1169.4L1147.5 1169.3L1150.5 1167.0L1153.5 1166.4L1156.5 1167.4L1159.5 1166.8L1162.5 1164.5L1165.5 1163.4L1168.5 1160.7L1171.5 1161.3L1174.5 1163.4L1177.5 1158.4L1180.5 1154.5L1183.5 1149.7L1186.5 1142.2L1189.5 1127.3L1192.5 1099.4L1195.5 1067.2L1198.5 1039.5L1201.5 1039.5L1204.5 1065.8L1207.5 1097.9L1210.5 1120.3L1213.5 1134.3L1216.5 1139.4L1219.5 1137.7L1222.5 1140.5L1225.5 1146.5L1228.5 1151.4L1231.5 1155.9L1234.5 1160.3L1237.5 1162.4L1240.5 1163.0L1243.5 1165.3L1246.5 1165.7L1249.5 1162.6L1252.5 1165.6L1255.5 1166.5L1258.5 1166.5L1261.5 1168.1L1264.5 1169.7L1267.5 1169.3L1270.5 1169.9L1273.5 1167.6L1276.5 1168.7L1279.5 1169.4L1282.5 1170.5L1285.5 1170.3L1288.5 1170.2L1291.5 1171.4L1294.5 1168.5L1297.5 1169.2L1300.5 1168.8L1303.5 1168.4L1306.5 1169.4L1309.5 1167.8L1312.5 1170.2L1315.5 1171.2L1318.5 1169.8L1321.5 1171.9L1324.5 1170.9L1327.5 1173.9L1330.5 1170.8L1333.5 1172.2L1336.5 1173.0L1339.5 1170.3L1342.5 1172.6L1345.5 1172.6L1348.5 1172.7L1351.5 1173.0L1354.5 1171.5L1357.5 1172.5L1360.5 1172.0L1363.5 1173.2L1366.5 1173.2L1369.5 1172.7L1372.5 1175.3L1375.5 1174.4L1378.5 1172.1L1381.5 1174.1L1384.5 1173.8L1387.5 1172.5L1390.5 1172.2L1393.5 1174.8L1396.5 1174.5L1399.5 1173.7L1402.5 1175.0L1405.5 1175.3L1408.5 1171.2L1411.5 1174.0L1414.5 1171.1L1417.5 1171.3L1420.5 1172.4L1423.5 1171.7L1426.5 1173.3L1429.5 1174.1L1432.5 1171.6L1435.5 1166.7L1438.5 1157.3L1441.5 1156.9L1444.5 1166.3L1447.5 1168.8L1450.5 1169.1L1453.5 1169.7L1456.5 1167.8L1459.5 1168.1L1462.5 1170.3L1465.5 1167.5L1468.5 1165.4L1471.5 1166.2L1474.5 1165.7L1477.5 1162.7L1480.5 1162.3L1483.5 1159.2L1486.5 1155.6L1489.5 1152.2L1492.5 1143.5L1495.5 1129.1L1498.5 1111.5L1501.5 1092.9L1504.5 1083.7L1507.5 1090.7L1510.5 1103.9L1513.5 1114.3L1516.5 1118.5L1519.5 1123.2L1522.5 1131.0L1525.5 1142.0L1528.5 1150.7L1531.5 1155.9L1534.5 1158.9L1537.5 1161.3L1540.5 1164.4L1543.5 1164.4L1546.5 1166.5L1549.5 1166.6L1552.5 1167.5L1555.5 1166.0L1558.5 1166.8L1561.5 1166.5L1564.5 1168.0L1567.5 1166.6L1570.5 1169.0L1573.5 1167.4L1576.5 1169.5L1579.5 1167.9L1582.5 1167.5L1585.5 1168.6L1588.5 1166.9L1591.5 1164.1L1594.5 1162.8L1597.5 1159.0L1600.5 1156.3L1603.5 1154.7L1606.5 1153.6L1609.5 1153.4L1612.5 1159.1L1615.5 1160.0L1618.5 1163.3L1621.5 1163.3L1624.5 1166.7L1627.5 1167.4L1630.5 1169.7L1633.5 1169.8L1636.5 1170.3L1639.5 1168.3L1642.5 1170.3L1645.5 1170.9L1648.5 1169.6L1651.5 1171.0L1654.5 1167.5L1657.5 1168.8L1660.5 1168.9L1663.5 1169.2L1666.5 1168.0L1669.5 1171.1L1672.5 1168.5L1675.5 1168.7L1678.5 1170.5L1681.5 1171.2L1684.5 1171.2L1687.5 1169.8L1690.5 1167.8L1693.5 1167.5L1696.5 1166.8L1699.5 1167.5L1702.5 1169.8L1705.5 1168.6L1708.5 1169.2L1711.5 1166.7L1714.5 1167.6L1717.5 1168.4L1720.5 1170.1L1723.5 1170.0L1726.5 1167.5L1729.5 1171.1L1732.5 1171.4L1735.5 1170.8L1738.5 1172.0L1741.5 1171.9L1744.5 1170.4L1747.5 1171.5L1750.5 1171.2L1753.5 1170.7L1756.5 1171.3L1759.5 1172.6L1762.5 1172.3L1765.5 1171.3L1768.5 1171.4L1771.5 1172.7L1774.5 1172.4L1777.5 1171.9L1780.5 1172.0L1783.5 1171.9L1786.5 1172.7L1789.5 1171.7L1792.5 1171.4L1795.5 1173.7L1798.5 1172.0L1801.5 1172.9L1804.5 1173.8L1807.5 1172.2L1810.5 1172.9L1813.5 1173.2L1816.5 1170.1L1819.5 1170.6L1822.5 1173.0L1825.5 1173.4L1828.5 1173.7L1831.5 1172.2L1834.5 1171.9L1837.5 1170.7L1840.5 1172.1L1843.5 1171.3"/>
<path fill="#0000ff" stroke="#0000ff" stroke-width="1.20" stroke-opacity="0.45" d="M156.0 690.6H159.0V689.3H162.0V695.9H165.0V695.3H168.0V693.9H171.0V700.7H174.0V704.4H177.0V708.5H180.0V704.2H183.0V703.6H186.0V701.7H189.0V714.2H192.0V712.1H195.0V715.8H198.0V703.8H201.0V710.2H204.0V703.9H207.0V705.1H210.0V719.2H213.0V718.1H216.0V721.0H219.0V719.7H222.0V718.0H225.0V720.3H228.0V720.3H231.0V729.6H234.0V725.2H237.0V727.3H240.0V713.5H243.0V729.7H246.0V728.7H249.0V729.7H252.0V735.2H255.0V733.4H258.0V737.5H261.0V735.4H264.0V732.8H267.0V738.9H270.0V740.6H273.0V744.1H276.0V740.0H279.0V733.7H282.0V745.2H285.0V741.9H288.0V748.9H291.0V742.8H294.0V750.5H297.0V749.9H300.0V751.0H303.0V752.4H306.0V752.0H309.0V753.4H312.0V751.5H315.0V756.5H318.0V756.7H321.0V758.6H324.0V761.2H327.0V760.1H330.0V760.9H333.0V758.6H336.0V759.7H339.0V763.5H342.0V761.0H345.0V768.8H348.0V763.7H351.0V767.1H354.0V765.5H357.0V766.8H360.0V770.4H363.0V771.3H366.0V773.2H369.0V767.7H372.0V773.9H375.0V772.7H378.0V772.6H381.0V774.4H384.0V771.3H387.0V773.2H390.0V778.5H393.0V769.0H396.0V779.4H399.0V780.4H402.0V778.8H405.0V777.0H408.0V777.2H411.0V776.2H414.0V779.2H417.0V777.9H420.0V764.6H423.0V735.1H426.0V671.9H429.0V643.9H432.0V645.8H435.0V697.1H438.0V749.6H441.0V770.2H444.0V776.6H447.0V782.6H450.0V779.3H453.0V782.7H456.0V784.0H459.0V782.0H462.0V779.6H465.0V785.4H468.0V781.1H471.0V785.7H474.0V788.5H477.0V785.6H480.0V790.8H483.0V790.3H486.0V780.6H489.0V785.6H492.0V791.6H495.0V793.4H498.0V786.9H501.0V790.2H504.0V789.3H507.0V791.6H510.0V790.5H513.0V789.0H516.0V782.2H519.0V769.5H522.0V710.9H525.0V574.3H528.0V385.5H531.0V351.3H534.0V395.5H537.0V588.1H540.0V720.9H543.0V768.9H546.0V773.9H549.0V759.2H552.0V739.5H555.0V716.1H558.0V691.8H561.0V642.3H564.0V567.7H567.0V490.5H570.0V450.0H573.0V449.2H576.0V481.5H579.0V555.5H582.0V626.8H585.0V677.9H588.0V708.3H591.0V730.1H594.0V753.1H597.0V769.5H600.0V787.1H603.0V793.2H606.0V799.2H609.0V802.7H612.0V802.8H615.0V804.7H618.0V806.6H621.0V804.3H624.0V801.0H627.0V797.3H630.0V799.5H633.0V803.2H636.0V795.7H639.0V798.4H642.0V801.1H645.0V803.0H648.0V801.8H651.0V802.7H654.0V801.7H657.0V800.5H660.0V797.3H663.0V798.8H666.0V800.7H669.0V793.9H672.0V796.1H675.0V793.7H678.0V790.2H681.0V793.9H684.0V792.6H687.0V787.5H690.0V787.1H693.0V786.5H696.0V780.2H699.0V772.4H702.0V759.2H705.0V737.2H708.0V698.3H711.0V643.0H714.0V571.8H717.0V505.6H720.0V478.1H723.0V477.9H726.0V503.5H729.0V541.6H732.0V564.0H735.0V580.9H738.0V620.2H741.0V673.3H744.0V721.0H747.0V748.4H750.0V771.8H753.0V780.2H756.0V786.7H759.0V783.5H762.0V794.0H765.0V793.0H768.0V796.3H771.0V795.0H774.0V797.7H777.0V798.2H780.0V800.7H783.0V800.3H786.0V797.2H789.0V801.0H792.0V801.7H795.0V805.6H798.0V802.6H801.0V801.0H804.0V797.0H807.0V802.7H810.0V801.1H813.0V803.5H816.0V797.3H819.0V789.0H822.0V781.4H825.0V748.6H828.0V669.9H831.0V514.7H834.0V317.8H837.0V248.7H840.0V259.1H843.0V422.2H846.0V610.0H849.0V721.6H852.0V770.2H855.0V788.1H858.0V797.2H861.0V803.6H864.0V807.1H867.0V808.2H870.0V809.4H873.0V813.0H876.0V811.9H879.0V810.3H882.0V810.8H885.0V811.6H888.0V811.1H891.0V809.8H894.0V809.5H897.0V807.0H900.0V811.0H903.0V805.6H906.0V803.9H909.0V807.9H912.0V797.3H915.0V797.9H918.0V802.3H921.0V803.1H924.0V803.1H927.0V806.4H930.0V806.7H933.0V803.1H936.0V801.0H939.0V801.0H942.0V807.3H945.0V805.6H948.0V806.2H951.0V800.0H954.0V800.0H957.0V805.3H960.0V805.1H963.0V808.3H966.0V808.2H969.0V806.5H972.0V806.5H975.0V806.4H978.0V803.6H981.0V802.1H984.0V804.4H987.0V801.8H990.0V809.2H993.0V806.5H996.0V803.4H999.0V800.8H1002.0V801.0H1005.0V800.1H1008.0V802.1H1011.0V809.5H1014.0V811.1H1017.0V811.9H1020.0V808.0H1023.0V807.6H1026.0V808.3H1029.0V805.8H1032.0V806.8H1035.0V806.5H1038.0V806.6H1041.0V807.1H1044.0V809.9H1047.0V810.3H1050.0V807.6H1053.0V798.1H1056.0V803.1H1059.0V806.9H1062.0V802.0H1065.0V806.2H1068.0V804.0H1071.0V805.0H1074.0V799.5H1077.0V801.9H1080.0V802.1H1083.0V802.5H1086.0V804.9H1089.0V802.9H1092.0V799.5H1095.0V796.1H1098.0V798.8H1101.0V798.9H1104.0V794.3H1107.0V795.6H1110.0V794.0H1113.0V793.3H1116.0V801.8H1119.0V790.4H1122.0V795.9H1125.0V792.9H1128.0V789.5H1131.0V794.0H1134.0V794.3H1137.0V793.8H1140.0V793.1H1143.0V790.4H1146.0V787.7H1149.0V789.8H1152.0V786.8H1155.0V787.6H1158.0V784.4H1161.0V780.5H1164.0V781.3H1167.0V781.3H1170.0V773.2H1173.0V763.4H1176.0V749.3H1179.0V733.9H1182.0V720.1H1185.0V698.1H1188.0V679.2H1191.0V654.4H1194.0V642.6H1197.0V639.5H1200.0V646.5H1203.0V665.9H1206.0V689.4H1209.0V686.0H1212.0V631.7H1215.0V554.0H1218.0V529.1H1221.0V534.6H1224.0V607.7H1227.0V693.1H1230.0V742.5H1233.0V761.6H1236.0V770.7H1239.0V773.5H1242.0V775.5H1245.0V779.6H1248.0V779.9H1251.0V775.1H1254.0V769.7H1257.0V749.5H1260.0V725.7H1263.0V723.9H1266.0V735.9H1269.0V761.5H1272.0V778.7H1275.0V786.9H1278.0V784.2H1281.0V784.6H1284.0V788.0H1287.0V788.1H1290.0V785.1H1293.0V783.3H1296.0V786.9H1299.0V785.4H1302.0V785.1H1305.0V786.6H1308.0V784.7H1311.0V788.6H1314.0V789.0H1317.0V789.6H1320.0V790.0H1323.0V788.6H1326.0V789.1H1329.0V783.9H1332.0V789.8H1335.0V785.5H1338.0V785.0H1341.0V786.4H1344.0V786.6H1347.0V786.7H1350.0V787.5H1353.0V785.8H1356.0V785.1H1359.0V785.3H1362.0V786.1H1365.0V777.7H1368.0V780.9H1371.0V787.2H1374.0V787.5H1377.0V785.3H1380.0V785.9H1383.0V780.9H1386.0V785.4H1389.0V784.1H1392.0V778.7H1395.0V779.3H1398.0V779.2H1401.0V778.5H1404.0V780.5H1407.0V773.2H1410.0V776.7H1413.0V774.5H1416.0V768.8H1419.0V771.5H1422.0V770.2H1425.0V755.4H1428.0V733.2H1431.0V685.4H1434.0V594.0H1437.0V491.6H1440.0V454.3H1443.0V458.0H1446.0V537.9H1449.0V640.6H1452.0V711.0H1455.0V747.7H1458.0V758.2H1461.0V763.9H1464.0V768.2H1467.0V769.0H1470.0V765.7H1473.0V759.6H1476.0V751.6H1479.0V722.9H1482.0V692.7H1485.0V670.7H1488.0V647.9H1491.0V597.0H1494.0V511.3H1497.0V448.4H1500.0V446.9H1503.0V475.4H1506.0V550.4H1509.0V597.4H1512.0V602.8H1515.0V621.1H1518.0V669.9H1521.0V716.4H1524.0V711.4H1527.0V650.0H1530.0V553.4H1533.0V451.0H1536.0V422.5H1539.0V427.4H1542.0V505.5H1545.0V612.3H1548.0V688.9H1551.0V731.6H1554.0V748.9H1557.0V752.2H1560.0V753.4H1563.0V755.8H1566.0V754.3H1569.0V750.8H1572.0V746.9H1575.0V744.1H1578.0V742.7H1581.0V733.7H1584.0V731.3H1587.0V722.7H1590.0V720.3H1593.0V713.8H1596.0V711.9H1599.0V713.7H1602.0V716.3H1605.0V717.8H1608.0V724.3H1611.0V724.7H1614.0V733.8H1617.0V736.2H1620.0V740.7H1623.0V735.9H1626.0V740.4H1629.0V737.6H1632.0V735.8H1635.0V739.6H1638.0V747.2H1641.0V743.2H1644.0V743.1H1647.0V736.4H1650.0V736.4H1653.0V747.9H1656.0V741.9H1659.0V743.7H1662.0V739.8H1665.0V744.6H1668.0V745.3H1671.0V745.4H1674.0V751.5H1677.0V740.9H1680.0V749.8H1683.0V750.8H1686.0V744.5H1689.0V737.7H1692.0V719.5H1695.0V681.3H1698.0V604.3H1701.0V501.7H1704.0V418.2H1707.0V406.6H1710.0V428.0H1713.0V522.9H1716.0V622.5H1719.0V693.5H1722.0V727.1H1725.0V737.8H1728.0V733.2H1731.0V740.3H1734.0V745.2H1737.0V746.2H1740.0V747.5H1743.0V742.0H1746.0V747.9H1749.0V738.9H1752.0V742.9H1755.0V741.4H1758.0V737.2H1761.0V737.5H1764.0V743.5H1767.0V742.1H1770.0V728.7H1773.0V738.5H1776.0V737.8H1779.0V742.1H1782.0V737.1H1785.0V740.2H1788.0V733.2H1791.0V735.3H1794.0V736.5H1797.0V737.6H1800.0V730.7H1803.0V736.0H1806.0V726.5H1809.0V733.9H1812.0V732.2H1815.0V736.1H1818.0V727.3H1821.0V731.9H1824.0V733.3H1827.0V730.3H1830.0V728.9H1833.0V722.9H1836.0V731.3H1839.0V732.5H1842.0V731.9H1845.0V728.7H1846.5V736.6H1845.0V745.9H1842.0V749.2H1839.0V761.4H1836.0V750.9H1833.0V755.4H1830.0V756.6H1827.0V756.6H1824.0V748.7H1821.0V751.3H1818.0V755.8H1815.0V750.6H1812.0V752.7H1809.0V745.3H1806.0V750.6H1803.0V748.7H1800.0V758.3H1797.0V759.6H1794.0V755.5H1791.0V751.9H1788.0V753.5H1785.0V757.5H1782.0V761.4H1779.0V752.5H1776.0V755.0H1773.0V755.6H1770.0V762.6H1767.0V762.1H1764.0V764.8H1761.0V756.3H1758.0V761.6H1755.0V755.5H1752.0V757.3H1749.0V760.0H1746.0V758.1H1743.0V758.0H1740.0V766.6H1737.0V764.9H1734.0V758.3H1731.0V759.3H1728.0V764.8H1725.0V745.3H1722.0V732.9H1719.0V697.5H1716.0V626.5H1713.0V526.9H1710.0V432.0H1707.0V505.7H1704.0V608.3H1701.0V685.3H1698.0V729.2H1695.0V744.2H1692.0V758.5H1689.0V756.6H1686.0V763.0H1683.0V766.7H1680.0V763.7H1677.0V762.2H1674.0V757.4H1671.0V759.9H1668.0V761.5H1665.0V760.6H1662.0V762.7H1659.0V766.0H1656.0V762.8H1653.0V757.0H1650.0V763.2H1647.0V760.8H1644.0V756.0H1641.0V763.4H1638.0V760.8H1635.0V756.0H1632.0V755.4H1629.0V756.6H1626.0V753.6H1623.0V750.9H1620.0V747.8H1617.0V745.8H1614.0V746.0H1611.0V741.5H1608.0V734.2H1605.0V735.1H1602.0V726.6H1599.0V724.5H1596.0V727.1H1593.0V735.9H1590.0V737.3H1587.0V744.5H1584.0V753.7H1581.0V754.9H1578.0V756.0H1575.0V761.1H1572.0V765.2H1569.0V768.9H1566.0V769.7H1563.0V772.3H1560.0V768.4H1557.0V763.9H1554.0V756.4H1551.0V735.6H1548.0V692.9H1545.0V616.3H1542.0V509.5H1539.0V455.0H1536.0V557.4H1533.0V654.0H1530.0V715.4H1527.0V735.3H1524.0V736.8H1521.0V720.4H1518.0V673.9H1515.0V625.1H1512.0V608.4H1509.0V601.4H1506.0V554.4H1503.0V479.4H1500.0V515.3H1497.0V601.0H1494.0V651.9H1491.0V674.7H1488.0V696.7H1485.0V726.9H1482.0V755.6H1479.0V768.6H1476.0V775.1H1473.0V785.2H1470.0V781.7H1467.0V780.0H1464.0V781.0H1461.0V776.8H1458.0V767.2H1455.0V755.0H1452.0V715.0H1449.0V644.6H1446.0V541.9H1443.0V495.6H1440.0V598.0H1437.0V689.4H1434.0V738.1H1431.0V761.0H1428.0V775.7H1425.0V779.3H1422.0V782.8H1419.0V782.3H1416.0V789.0H1413.0V792.0H1410.0V790.4H1407.0V794.7H1404.0V791.7H1401.0V793.2H1398.0V794.2H1395.0V793.4H1392.0V796.4H1389.0V800.3H1386.0V798.1H1383.0V802.3H1380.0V805.5H1377.0V802.1H1374.0V797.6H1371.0V797.3H1368.0V804.6H1365.0V803.7H1362.0V802.9H1359.0V798.7H1356.0V797.9H1353.0V801.3H1350.0V800.4H1347.0V799.0H1344.0V803.0H1341.0V804.4H1338.0V801.8H1335.0V801.0H1332.0V810.3H1329.0V801.6H1326.0V808.6H1323.0V804.5H1320.0V801.8H1317.0V801.8H1314.0V800.4H1311.0V804.0H1308.0V799.8H1305.0V800.1H1302.0V801.4H1299.0V805.5H1296.0V802.4H1293.0V804.3H1290.0V802.5H1287.0V799.7H1284.0V801.2H1281.0V797.6H1278.0V795.1H1275.0V794.8H1272.0V784.1H1269.0V767.2H1266.0V739.9H1263.0V753.5H1260.0V773.7H1257.0V787.9H1254.0V794.5H1251.0V793.3H1248.0V790.3H1245.0V790.5H1242.0V791.3H1239.0V784.4H1236.0V775.1H1233.0V768.4H1230.0V747.2H1227.0V697.1H1224.0V611.7H1221.0V558.0H1218.0V635.7H1215.0V690.0H1212.0V706.1H1209.0V703.2H1206.0V693.4H1203.0V669.9H1200.0V650.5H1197.0V658.4H1194.0V683.2H1191.0V702.1H1188.0V724.1H1185.0V737.9H1182.0V753.3H1179.0V767.6H1176.0V779.0H1173.0V787.8H1170.0V794.9H1167.0V795.2H1164.0V795.7H1161.0V799.9H1158.0V799.6H1155.0V799.7H1152.0V802.2H1149.0V806.6H1146.0V805.6H1143.0V807.7H1140.0V806.8H1137.0V805.9H1134.0V805.8H1131.0V806.0H1128.0V808.3H1125.0V810.5H1122.0V810.5H1119.0V812.2H1116.0V809.7H1113.0V814.3H1110.0V817.0H1107.0V808.2H1104.0V814.8H1101.0V812.4H1098.0V814.3H1095.0V813.4H1092.0V812.9H1089.0V816.1H1086.0V813.2H1083.0V815.6H1080.0V821.5H1077.0V813.9H1074.0V816.2H1071.0V818.5H1068.0V818.5H1065.0V820.6H1062.0V818.1H1059.0V816.7H1056.0V821.4H1053.0V823.9H1050.0V820.1H1047.0V823.1H1044.0V820.9H1041.0V820.2H1038.0V820.9H1035.0V820.4H1032.0V819.9H1029.0V822.6H1026.0V821.5H1023.0V817.5H1020.0V822.5H1017.0V821.3H1014.0V824.1H1011.0V816.4H1008.0V820.8H1005.0V820.3H1002.0V814.6H999.0V818.9H996.0V823.1H993.0V824.0H990.0V821.8H987.0V816.0H984.0V817.3H981.0V815.3H978.0V819.5H975.0V821.2H972.0V819.6H969.0V822.1H966.0V819.9H963.0V821.2H960.0V813.6H957.0V817.0H954.0V819.9H951.0V816.4H948.0V816.5H945.0V819.0H942.0V816.8H939.0V825.6H936.0V822.7H933.0V817.7H930.0V818.9H927.0V819.7H924.0V822.8H921.0V822.6H918.0V817.1H915.0V818.3H912.0V817.8H909.0V820.8H906.0V829.6H903.0V820.8H900.0V821.0H897.0V826.6H894.0V827.9H891.0V819.6H888.0V820.8H885.0V826.6H882.0V823.8H879.0V826.3H876.0V822.9H873.0V824.7H870.0V822.2H867.0V821.2H864.0V816.4H861.0V813.0H858.0V803.3H855.0V793.0H852.0V774.2H849.0V725.6H846.0V614.0H843.0V426.2H840.0V321.8H837.0V518.7H834.0V673.9H831.0V752.6H828.0V785.4H825.0V800.2H822.0V808.3H819.0V807.5H816.0V810.9H813.0V809.8H810.0V816.2H807.0V812.7H804.0V811.4H801.0V811.7H798.0V814.6H795.0V817.1H792.0V817.1H789.0V811.8H786.0V812.4H783.0V810.2H780.0V808.3H777.0V809.1H774.0V814.0H771.0V805.3H768.0V802.9H765.0V803.1H762.0V802.3H759.0V798.9H756.0V793.8H753.0V784.2H750.0V775.8H747.0V752.9H744.0V725.0H741.0V677.3H738.0V624.2H735.0V584.9H732.0V568.0H729.0V545.6H726.0V507.5H723.0V509.6H720.0V575.8H717.0V647.0H714.0V702.3H711.0V741.2H708.0V763.2H705.0V777.6H702.0V787.0H699.0V791.9H696.0V794.8H693.0V798.1H690.0V803.6H687.0V801.7H684.0V807.0H681.0V806.6H678.0V805.9H675.0V812.1H672.0V808.0H669.0V815.0H666.0V812.4H663.0V809.6H660.0V811.0H657.0V816.8H654.0V814.2H651.0V816.0H648.0V810.4H645.0V815.3H642.0V814.2H639.0V818.1H636.0V817.3H633.0V815.5H630.0V814.8H627.0V816.0H624.0V816.8H621.0V813.5H618.0V813.8H615.0V815.7H612.0V814.0H609.0V815.4H606.0V810.7H603.0V800.7H600.0V791.1H597.0V775.8H594.0V757.1H591.0V734.1H588.0V712.3H585.0V681.9H582.0V630.8H579.0V559.5H576.0V485.5H573.0V494.5H570.0V571.7H567.0V646.3H564.0V695.8H561.0V720.1H558.0V743.5H555.0V763.2H552.0V778.0H549.0V786.8H546.0V785.2H543.0V772.9H540.0V724.9H537.0V592.1H534.0V399.5H531.0V578.3H528.0V714.9H525.0V773.5H522.0V790.5H519.0V795.6H516.0V800.9H513.0V799.3H510.0V803.9H507.0V800.9H504.0V804.5H501.0V804.9H498.0V803.9H495.0V801.0H492.0V802.3H489.0V801.6H486.0V806.5H483.0V805.5H480.0V796.8H477.0V799.6H474.0V796.4H471.0V796.5H468.0V802.1H465.0V794.2H462.0V801.6H459.0V798.5H456.0V798.5H453.0V798.2H450.0V796.4H447.0V795.3H444.0V784.4H441.0V780.2H438.0V753.6H435.0V701.1H432.0V675.9H429.0V739.1H426.0V769.2H423.0V787.9H420.0V788.5H417.0V795.3H414.0V794.3H411.0V797.5H408.0V794.3H405.0V796.3H402.0V793.8H399.0V791.3H396.0V789.3H393.0V794.9H390.0V792.7H387.0V791.0H384.0V787.2H381.0V783.8H378.0V793.6H375.0V788.3H372.0V785.0H369.0V783.9H366.0V792.2H363.0V782.4H360.0V783.6H357.0V785.4H354.0V783.7H351.0V782.2H348.0V778.9H345.0V776.7H342.0V775.8H339.0V778.0H336.0V773.8H333.0V775.5H330.0V776.5H327.0V774.9H324.0V773.7H321.0V772.3H318.0V769.2H315.0V769.7H312.0V770.2H309.0V769.1H306.0V772.2H303.0V769.6H300.0V765.4H297.0V764.5H294.0V764.2H291.0V764.2H288.0V762.6H285.0V762.9H282.0V760.9H279.0V756.4H276.0V752.8H273.0V754.8H270.0V752.5H267.0V752.2H264.0V756.4H261.0V759.1H258.0V753.5H255.0V749.4H252.0V750.4H249.0V748.4H246.0V755.5H243.0V747.1H240.0V744.1H237.0V739.2H234.0V740.4H231.0V739.3H228.0V740.3H225.0V738.8H222.0V738.0H219.0V745.9H216.0V735.9H213.0V731.8H210.0V733.3H207.0V736.5H204.0V726.0H201.0V732.9H198.0V735.0H195.0V733.6H192.0V724.3H189.0V724.0H186.0V719.9H183.0V725.6H180.0V727.7H177.0V727.2H174.0V728.0H171.0V723.8H168.0V722.5H165.0V718.9H162.0V714.8H159.0V708.6H156.0Z"/>
<path fill="none" stroke="#0000ff" stroke-width="5.0" stroke-linejoin="round" stroke-linecap="round" d="M157.5 701.2L160.5 702.7L163.5 707.7L166.5 709.1L169.5 711.0L172.5 711.2L175.5 711.9L178.5 718.0L181.5 712.9L184.5 712.5L187.5 711.0L190.5 718.4L193.5 719.8L196.5 725.1L199.5 718.1L202.5 719.0L205.5 725.0L208.5 721.8L211.5 726.0L214.5 726.5L217.5 731.7L220.5 729.4L223.5 727.2L226.5 730.6L229.5 729.8L232.5 735.3L235.5 732.7L238.5 736.6L241.5 735.2L244.5 742.4L247.5 740.3L250.5 740.5L253.5 741.5L256.5 743.9L259.5 746.5L262.5 745.9L265.5 742.8L268.5 745.3L271.5 746.3L274.5 748.4L277.5 746.7L280.5 750.2L283.5 752.7L286.5 751.7L289.5 755.6L292.5 754.2L295.5 756.5L298.5 757.8L301.5 760.1L304.5 761.7L307.5 762.3L310.5 761.9L313.5 761.0L316.5 763.7L319.5 765.7L322.5 767.9L325.5 768.3L328.5 767.9L331.5 767.8L334.5 766.9L337.5 769.2L340.5 771.1L343.5 768.9L346.5 773.5L349.5 773.8L352.5 774.6L355.5 776.7L358.5 774.8L361.5 777.5L364.5 780.6L367.5 778.9L370.5 777.6L373.5 781.3L376.5 783.1L379.5 778.9L382.5 781.6L385.5 781.0L388.5 783.2L391.5 785.9L394.5 780.5L397.5 785.3L400.5 788.2L403.5 789.3L406.5 784.4L409.5 786.4L412.5 785.8L415.5 788.0L418.5 782.5L421.5 777.6L424.5 753.9L427.5 706.0L430.5 654.2L433.5 670.1L436.5 728.1L439.5 765.4L442.5 776.9L445.5 788.0L448.5 789.1L451.5 787.6L454.5 790.1L457.5 791.1L460.5 791.9L463.5 788.5L466.5 793.1L469.5 789.2L472.5 790.7L475.5 794.3L478.5 792.5L481.5 798.0L484.5 797.7L487.5 793.0L490.5 795.7L493.5 796.7L496.5 797.5L499.5 797.9L502.5 796.6L505.5 796.1L508.5 796.6L511.5 794.7L514.5 795.3L517.5 788.9L520.5 780.3L523.5 745.5L526.5 652.5L529.5 479.0L532.5 367.4L535.5 492.6L538.5 663.8L541.5 751.7L544.5 777.8L547.5 782.0L550.5 770.3L553.5 750.3L556.5 729.0L559.5 708.4L562.5 671.5L565.5 609.4L568.5 530.2L571.5 466.5L574.5 461.8L577.5 519.3L580.5 594.6L583.5 656.3L586.5 696.8L589.5 720.8L592.5 743.6L595.5 764.6L598.5 781.0L601.5 794.7L604.5 801.4L607.5 805.5L610.5 808.8L613.5 810.4L616.5 809.2L619.5 809.9L622.5 810.2L625.5 808.2L628.5 807.4L631.5 808.9L634.5 810.0L637.5 808.1L640.5 805.8L643.5 808.9L646.5 806.7L649.5 808.5L652.5 808.2L655.5 809.4L658.5 804.6L661.5 804.0L664.5 805.0L667.5 806.0L670.5 801.2L673.5 802.1L676.5 800.6L679.5 798.3L682.5 798.8L685.5 797.7L688.5 794.5L691.5 793.2L694.5 790.4L697.5 787.3L700.5 781.4L703.5 769.2L706.5 750.5L709.5 721.4L712.5 673.6L715.5 609.0L718.5 538.6L721.5 489.5L724.5 490.0L727.5 523.8L730.5 555.2L733.5 573.9L736.5 600.5L739.5 648.2L742.5 699.9L745.5 739.4L748.5 765.2L751.5 779.6L754.5 785.5L757.5 792.6L760.5 790.5L763.5 798.4L766.5 798.5L769.5 801.8L772.5 804.2L775.5 804.0L778.5 803.0L781.5 805.2L784.5 806.7L787.5 805.6L790.5 807.8L793.5 808.5L796.5 809.4L799.5 807.6L802.5 805.9L805.5 807.1L808.5 808.3L811.5 806.0L814.5 806.7L817.5 801.1L820.5 798.9L823.5 789.6L826.5 769.5L829.5 717.3L832.5 601.4L835.5 416.9L838.5 270.3L841.5 331.9L844.5 522.3L847.5 674.0L850.5 751.4L853.5 783.4L856.5 796.5L859.5 807.1L862.5 809.9L865.5 814.1L868.5 814.9L871.5 818.3L874.5 817.7L877.5 818.7L880.5 816.8L883.5 819.9L886.5 817.2L889.5 815.7L892.5 818.0L895.5 815.1L898.5 814.1L901.5 814.9L904.5 815.2L907.5 811.7L910.5 812.9L913.5 808.6L916.5 809.4L919.5 813.9L922.5 814.6L925.5 810.1L928.5 812.5L931.5 811.9L934.5 810.5L937.5 811.3L940.5 811.9L943.5 812.5L946.5 811.1L949.5 810.9L952.5 811.8L955.5 808.5L958.5 809.8L961.5 813.6L964.5 814.4L967.5 814.6L970.5 814.5L973.5 812.6L976.5 813.1L979.5 807.9L982.5 809.7L985.5 810.5L988.5 813.1L991.5 814.9L994.5 814.3L997.5 813.9L1000.5 809.7L1003.5 810.1L1006.5 811.5L1009.5 812.2L1012.5 814.9L1015.5 815.4L1018.5 817.6L1021.5 812.8L1024.5 813.6L1027.5 815.5L1030.5 812.8L1033.5 812.7L1036.5 813.0L1039.5 813.6L1042.5 814.8L1045.5 814.9L1048.5 814.7L1051.5 816.4L1054.5 812.4L1057.5 810.9L1060.5 813.0L1063.5 812.3L1066.5 811.8L1069.5 810.7L1072.5 811.0L1075.5 808.4L1078.5 810.7L1081.5 809.0L1084.5 808.8L1087.5 809.7L1090.5 808.8L1093.5 807.2L1096.5 806.3L1099.5 804.2L1102.5 805.6L1105.5 802.6L1108.5 806.3L1111.5 804.8L1114.5 801.7L1117.5 807.3L1120.5 800.7L1123.5 802.1L1126.5 799.4L1129.5 798.1L1132.5 799.9L1135.5 800.0L1138.5 799.6L1141.5 800.8L1144.5 797.2L1147.5 796.2L1150.5 795.5L1153.5 792.6L1156.5 793.6L1159.5 790.8L1162.5 788.3L1165.5 787.6L1168.5 786.7L1171.5 778.5L1174.5 771.4L1177.5 760.3L1180.5 745.0L1183.5 728.9L1186.5 711.7L1189.5 691.1L1192.5 668.8L1195.5 649.6L1198.5 644.7L1201.5 656.5L1204.5 679.6L1207.5 697.5L1210.5 698.0L1213.5 663.4L1216.5 595.7L1219.5 538.7L1222.5 569.0L1225.5 654.0L1228.5 722.9L1231.5 756.0L1234.5 771.0L1237.5 777.5L1240.5 783.2L1243.5 782.8L1246.5 783.3L1249.5 786.0L1252.5 786.3L1255.5 779.3L1258.5 763.5L1261.5 738.9L1264.5 729.9L1267.5 749.4L1270.5 773.2L1273.5 786.2L1276.5 791.6L1279.5 792.8L1282.5 794.4L1285.5 792.2L1288.5 793.3L1291.5 795.0L1294.5 795.3L1297.5 797.0L1300.5 795.7L1303.5 792.3L1306.5 792.3L1309.5 794.5L1312.5 794.1L1315.5 795.2L1318.5 796.1L1321.5 796.4L1324.5 795.7L1327.5 794.5L1330.5 796.9L1333.5 794.6L1336.5 794.4L1339.5 794.4L1342.5 794.9L1345.5 793.8L1348.5 795.3L1351.5 793.8L1354.5 791.8L1357.5 792.2L1360.5 792.6L1363.5 796.6L1366.5 791.3L1369.5 790.5L1372.5 792.3L1375.5 794.1L1378.5 793.4L1381.5 792.3L1384.5 789.7L1387.5 792.6L1390.5 791.1L1393.5 786.4L1396.5 787.9L1399.5 787.1L1402.5 785.7L1405.5 787.4L1408.5 782.2L1411.5 784.5L1414.5 779.7L1417.5 777.0L1420.5 777.1L1423.5 774.3L1426.5 761.4L1429.5 748.7L1432.5 714.6L1435.5 644.3L1438.5 543.9L1441.5 466.8L1444.5 493.7L1447.5 592.9L1450.5 682.1L1453.5 736.0L1456.5 757.4L1459.5 768.0L1462.5 771.8L1465.5 776.0L1468.5 776.4L1471.5 777.9L1474.5 769.4L1477.5 761.2L1480.5 741.7L1483.5 710.9L1486.5 682.6L1489.5 663.5L1492.5 627.8L1495.5 556.7L1498.5 476.6L1501.5 456.8L1504.5 515.0L1507.5 579.7L1510.5 604.8L1513.5 610.4L1516.5 645.7L1519.5 697.1L1522.5 727.4L1525.5 725.4L1528.5 685.9L1531.5 605.0L1534.5 501.3L1537.5 432.1L1540.5 463.9L1543.5 562.3L1546.5 656.8L1549.5 717.0L1552.5 744.4L1555.5 756.3L1558.5 759.5L1561.5 761.8L1564.5 761.4L1567.5 759.3L1570.5 758.1L1573.5 752.7L1576.5 750.2L1579.5 748.7L1582.5 743.2L1585.5 738.6L1588.5 729.5L1591.5 726.4L1594.5 720.8L1597.5 720.2L1600.5 720.2L1603.5 723.3L1606.5 725.6L1609.5 733.4L1612.5 736.0L1615.5 739.5L1618.5 743.0L1621.5 746.6L1624.5 744.6L1627.5 748.0L1630.5 748.4L1633.5 745.4L1636.5 750.6L1639.5 755.0L1642.5 749.2L1645.5 751.2L1648.5 752.0L1651.5 750.2L1654.5 754.0L1657.5 755.3L1660.5 756.8L1663.5 752.5L1666.5 753.8L1669.5 753.4L1672.5 751.3L1675.5 756.2L1678.5 753.0L1681.5 756.6L1684.5 756.1L1687.5 750.3L1690.5 748.6L1693.5 735.0L1696.5 708.8L1699.5 652.3L1702.5 556.8L1705.5 456.3L1708.5 415.6L1711.5 474.4L1714.5 577.3L1717.5 665.1L1720.5 714.8L1723.5 737.2L1726.5 748.6L1729.5 749.7L1732.5 749.0L1735.5 752.9L1738.5 756.0L1741.5 752.6L1744.5 751.3L1747.5 753.9L1750.5 748.0L1753.5 748.6L1756.5 748.9L1759.5 748.2L1762.5 748.0L1765.5 750.4L1768.5 749.3L1771.5 745.9L1774.5 747.3L1777.5 746.1L1780.5 749.5L1783.5 747.6L1786.5 747.2L1789.5 742.5L1792.5 745.5L1795.5 749.1L1798.5 746.9L1801.5 742.0L1804.5 742.4L1807.5 738.1L1810.5 743.0L1813.5 743.1L1816.5 743.2L1819.5 739.8L1822.5 741.0L1825.5 739.1L1828.5 740.6L1831.5 741.6L1834.5 737.9L1837.5 746.6L1840.5 741.4L1843.5 737.8"/>
</g>
<g fill="#000">
<polygon points="430.4,407.0 409.1,449.5 451.6,449.5"/>
<polygon points="532.4,254.5 511.1,297.0 553.6,297.0"/>
<polygon points="840.5,166.5 819.2,209.0 861.8,209.0"/>
<polygon points="1221.8,353.8 1200.5,396.3 1243.0,396.3"/>
<polygon points="1263.7,392.6 1242.5,435.1 1285.0,435.1"/>
<polygon points="1443.5,340.0 1422.2,382.5 1464.8,382.5"/>
<polygon points="1538.8,221.5 1517.5,264.0 1560.0,264.0"/>
<polygon points="1709.5,325.5 1688.2,368.0 1730.8,368.0"/>
<circle cx="575.3" cy="249.1" r="17.7"/>
<circle cx="723.9" cy="271.3" r="17.7"/>
<circle cx="1199.1" cy="283.7" r="17.7"/>
<circle cx="1501.7" cy="330.0" r="17.7"/>
<circle cx="1597.0" cy="327.8" r="17.7"/>
</g>
<defs><linearGradient id="gw0" gradientUnits="userSpaceOnUse" x1="0" y1="449.5" x2="0" y2="1274.5"><stop offset="0" stop-color="#1400f0" stop-opacity="0.40"/><stop offset="1" stop-color="#1400f0" stop-opacity="0.00"/></linearGradient><linearGradient id="gn0" gradientUnits="userSpaceOnUse" x1="0" y1="449.5" x2="0" y2="1274.5"><stop offset="0" stop-color="#1400f0" stop-opacity="0.20"/><stop offset="1" stop-color="#1400f0" stop-opacity="1.00"/></linearGradient><linearGradient id="gw4" gradientUnits="userSpaceOnUse" x1="0" y1="207.5" x2="0" y2="1274.5"><stop offset="0" stop-color="#1400f0" stop-opacity="0.40"/><stop offset="1" stop-color="#1400f0" stop-opacity="0.10"/></linearGradient><linearGradient id="gn4" gradientUnits="userSpaceOnUse" x1="0" y1="207.5" x2="0" y2="1274.5"><stop offset="0" stop-color="#1400f0" stop-opacity="0.20"/><stop offset="1" stop-color="#1400f0" stop-opacity="0.80"/></linearGradient><linearGradient id="gw6" gradientUnits="userSpaceOnUse" x1="0" y1="396.0" x2="0" y2="1274.5"><stop offset="0" stop-color="#1400f0" stop-opacity="0.50"/><stop offset="1" stop-color="#1400f0" stop-opacity="0.10"/></linearGradient><linearGradient id="gn6" gradientUnits="userSpaceOnUse" x1="0" y1="396.0" x2="0" y2="1274.5"><stop offset="0" stop-color="#1400f0" stop-opacity="0.00"/><stop offset="1" stop-color="#1400f0" stop-opacity="0.80"/></linearGradient><linearGradient id="gw7" gradientUnits="userSpaceOnUse" x1="0" y1="434.7" x2="0" y2="1274.5"><stop offset="0" stop-color="#1400f0" stop-opacity="0.10"/><stop offset="1" stop-color="#1400f0" stop-opacity="0.00"/></linearGradient><linearGradient id="gn7" gradientUnits="userSpaceOnUse" x1="0" y1="434.7" x2="0" y2="1274.5"><stop offset="0" stop-color="#1400f0" stop-opacity="0.80"/><stop offset="1" stop-color="#1400f0" stop-opacity="1.00"/></linearGradient><linearGradient id="gw12" gradientUnits="userSpaceOnUse" x1="0" y1="367.0" x2="0" y2="1274.5"><stop offset="0" stop-color="#1400f0" stop-opacity="0.50"/><stop offset="1" stop-color="#1400f0" stop-opacity="0.35"/></linearGradient><linearGradient id="gn12" gradientUnits="userSpaceOnUse" x1="0" y1="367.0" x2="0" y2="1274.5"><stop offset="0" stop-color="#1400f0" stop-opacity="0.00"/><stop offset="1" stop-color="#1400f0" stop-opacity="0.30"/></linearGradient></defs>
<rect x="153" y="53.7" width="1696.4" height="1218.7" fill="none" stroke="#000" stroke-width="6.6"/>
<g fill="none"><path d="M431.3 449.5L432.6 1274.5" stroke="url(#gw0)" stroke-width="4.2"/><path d="M431.3 449.5L432.6 1274.5" stroke="url(#gn0)" stroke-width="2.2"/><line x1="531.7" y1="297.0" x2="531.3" y2="1274.5" stroke="#1400f0" stroke-opacity="0.50" stroke-width="4.2"/><line x1="574.2" y1="266.0" x2="573.8" y2="1274.5" stroke="#1400f0" stroke-opacity="1.00" stroke-width="2.2"/><line x1="722.9" y1="288.0" x2="723.0" y2="1274.5" stroke="#1400f0" stroke-opacity="1.00" stroke-width="2.2"/><path d="M837.9 207.5L837.7 1274.5" stroke="url(#gw4)" stroke-width="4.2"/><path d="M837.9 207.5L837.7 1274.5" stroke="url(#gn4)" stroke-width="2.2"/><line x1="1200.3" y1="301.0" x2="1200.1" y2="1274.5" stroke="#1400f0" stroke-opacity="1.00" stroke-width="2.2"/><path d="M1221.1 396.0L1222.5 1274.5" stroke="url(#gw6)" stroke-width="4.2"/><path d="M1221.1 396.0L1222.5 1274.5" stroke="url(#gn6)" stroke-width="2.2"/><path d="M1264.2 434.7L1263.8 1274.5" stroke="url(#gw7)" stroke-width="4.2"/><path d="M1264.2 434.7L1263.8 1274.5" stroke="url(#gn7)" stroke-width="2.2"/><line x1="1443.3" y1="381.2" x2="1442.6" y2="1274.5" stroke="#1400f0" stroke-opacity="0.50" stroke-width="4.2"/><line x1="1500.1" y1="347.0" x2="1499.9" y2="1274.5" stroke="#1400f0" stroke-opacity="1.00" stroke-width="2.2"/><line x1="1538.3" y1="224.0" x2="1538.1" y2="1274.5" stroke="#1400f0" stroke-opacity="0.50" stroke-width="4.2"/><line x1="1597.7" y1="345.0" x2="1597.5" y2="1274.5" stroke="#1400f0" stroke-opacity="1.00" stroke-width="2.2"/><path d="M1708.6 367.0L1713.7 1274.5" stroke="url(#gw12)" stroke-width="4.2"/><path d="M1708.6 367.0L1713.7 1274.5" stroke="url(#gn12)" stroke-width="2.2"/></g>
<g><line x1="274.2" y1="1255.0" x2="274.2" y2="1270" stroke="#000" stroke-width="5.2"/><line x1="395.3" y1="1241.5" x2="395.3" y2="1270" stroke="#000" stroke-width="5.2"/><line x1="516.5" y1="1255.0" x2="516.5" y2="1270" stroke="#000" stroke-width="5.2"/><line x1="637.7" y1="1241.5" x2="637.7" y2="1270" stroke="#000" stroke-width="5.2"/><line x1="758.8" y1="1255.0" x2="758.8" y2="1270" stroke="#000" stroke-width="5.2"/><line x1="880.0" y1="1241.5" x2="880.0" y2="1270" stroke="#000" stroke-width="5.2"/><line x1="1001.1" y1="1255.0" x2="1001.1" y2="1270" stroke="#000" stroke-width="5.2"/><line x1="1122.3" y1="1241.5" x2="1122.3" y2="1270" stroke="#000" stroke-width="5.2"/><line x1="1243.5" y1="1255.0" x2="1243.5" y2="1270" stroke="#000" stroke-width="5.2"/><line x1="1364.6" y1="1241.5" x2="1364.6" y2="1270" stroke="#000" stroke-width="5.2"/><line x1="1485.8" y1="1255.0" x2="1485.8" y2="1270" stroke="#000" stroke-width="5.2"/><line x1="1607.0" y1="1241.5" x2="1607.0" y2="1270" stroke="#000" stroke-width="5.2"/><line x1="1728.1" y1="1255.0" x2="1728.1" y2="1270" stroke="#000" stroke-width="5.2"/></g>
<g style="font-family:'Liberation Sans',Arial,Helvetica,sans-serif;font-weight:bold;font-size:75px" fill="#000"><text transform="translate(153.0 1358) scale(1 1.03)" text-anchor="middle">20</text><text transform="translate(395.3 1358) scale(1 1.03)" text-anchor="middle">30</text><text transform="translate(637.7 1358) scale(1 1.03)" text-anchor="middle">40</text><text transform="translate(880.0 1358) scale(1 1.03)" text-anchor="middle">50</text><text transform="translate(1122.3 1358) scale(1 1.03)" text-anchor="middle">60</text><text transform="translate(1364.6 1358) scale(1 1.03)" text-anchor="middle">70</text><text transform="translate(1607.0 1358) scale(1 1.03)" text-anchor="middle">80</text><text transform="translate(1849.3 1358) scale(1 1.03)" text-anchor="middle">90</text></g>
<g style="font-family:'Liberation Sans',Arial,Helvetica,sans-serif;font-weight:bold;font-size:83px" fill="#000"><text transform="translate(0 1455.7) scale(1 1.03)"><tspan x="911.1">2</tspan><tspan x="956.6">θ</tspan><tspan x="1024.4">(</tspan><tspan x="1049.6">°</tspan><tspan x="1086.9">)</tspan></text></g>
<text style="font-family:'Liberation Sans',Arial,Helvetica,sans-serif;font-weight:bold;font-size:82px" fill="#000" transform="translate(104.9 1097.2) rotate(-90) scale(1 1.04)">Intensity (arb. units)</text>
<polygon points="1111.8,112.2 1090.2,154.6 1132.8,154.6" fill="#000"/>
<circle cx="1401.7" cy="131.9" r="17.7" fill="#000"/>
<g style="font-family:'Liberation Sans',Arial,Helvetica,sans-serif;font-weight:bold;font-size:81px" fill="#000">
<text transform="translate(1140.4 159.2) scale(1 1.04)">-</text>
<text transform="translate(1162.7 154.6) scale(1 1.05)">WN</text>
<text transform="translate(0 154.6) scale(1 1.05)"><tspan x="1427.9">-W</tspan><tspan x="1529.3" style="font-size:60.5px">2</tspan><tspan x="1564.6">N+CrN</tspan></text>
</g>
<g style="font-family:'Liberation Sans',Arial,Helvetica,sans-serif;font-weight:bold;font-size:60px" fill="#000">
<text transform="translate(204.8 703.3) scale(1 1.06)">C3</text>
<text transform="translate(212.1 859) scale(1 1.06)">C2</text>
<clipPath id="c1c"><rect x="0" y="0" width="263.4" height="1503"/><rect x="0" y="0" width="1917" height="1035.81"/><rect x="276.93" y="0" width="8.23" height="1503"/></clipPath>
<g clip-path="url(#c1c)"><text transform="translate(217.1 1042.6) scale(1 1.06)">C<tspan dx="2.5">1</tspan></text></g>
</g>
</svg></body></html>
